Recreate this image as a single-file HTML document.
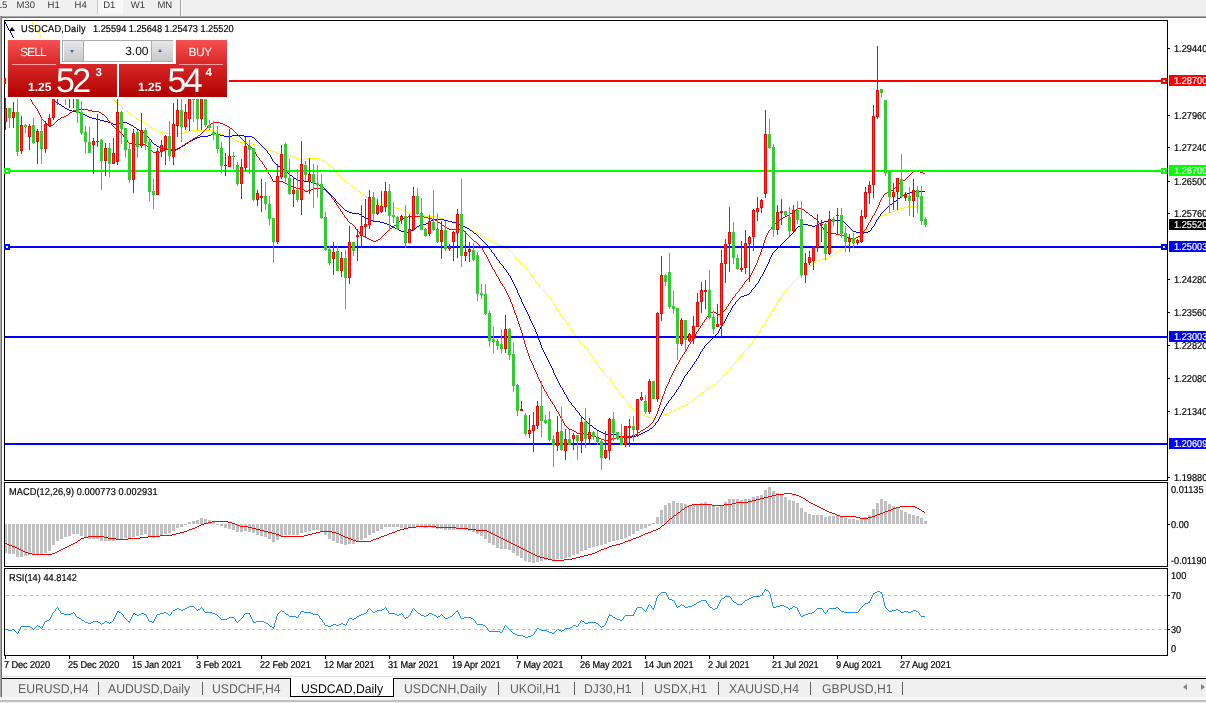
<!DOCTYPE html>
<html><head><meta charset="utf-8"><title>USDCAD,Daily</title>
<style>
html,body{margin:0;padding:0;}
body{width:1206px;height:703px;overflow:hidden;background:#fff;position:relative;font-family:"Liberation Sans",sans-serif;font-size:10px;color:#000;text-rendering:geometricPrecision;}
.a{position:absolute;white-space:nowrap;line-height:12px;}
.tb{position:absolute;left:0;top:0;width:1206px;height:16px;background:#f0f0f0;}
.tb span{position:absolute;top:-1.2px;font-size:9.5px;line-height:14px;color:#383838;letter-spacing:-0.05px}
.ax{position:absolute;left:1173.5px;font-size:10px;line-height:12px;white-space:nowrap;letter-spacing:0px;transform:scaleX(0.92);transform-origin:0 50%;-webkit-text-stroke:0.2px #000;}
.t{-webkit-text-stroke:0.2px #000;transform:scaleX(0.92);transform-origin:0 50%;}
.tag{position:absolute;left:1169px;width:37px;height:11px;}
.tag span{position:absolute;left:4.5px;top:1px;font-size:10px;line-height:12px;color:#fff;letter-spacing:0px;transform:scaleX(0.92);transform-origin:0 50%;-webkit-text-stroke:0.2px #fff;}
.dt{position:absolute;top:660px;font-size:10px;line-height:12px;white-space:nowrap;letter-spacing:-0.1px;transform:scaleX(0.92);transform-origin:0 50%;-webkit-text-stroke:0.2px #000;}
.tabs{position:absolute;left:0;top:678px;width:1206px;height:25px;background:#f0f0f0;}
.tabs span{position:absolute;top:2.6px;font-size:12.6px;line-height:16px;color:#606060;white-space:nowrap;transform:scaleX(0.97);transform-origin:0 50%;}
</style></head><body>

<div class="tb"><span style="left:-11.2px">M15</span><span style="left:16.6px">M30</span><span style="left:47.6px">H1</span><span style="left:74.6px">H4</span><div style="position:absolute;left:97px;top:0;width:25px;height:14px;background:#f8f8f8;border-left:1px solid #c8c8c8;"></div><span style="left:103.2px">D1</span><span style="left:130.8px">W1</span><span style="left:157.5px">MN</span><div style="position:absolute;left:180px;top:0;width:1px;height:16px;background:#a0a0a0;"></div><div style="position:absolute;left:181px;top:0;width:1px;height:16px;background:#fff;"></div></div>
<div style="position:absolute;left:0;top:16px;width:1206px;height:2px;background:linear-gradient(#a8a8a8 50%,#707070 50%);"></div>
<div style="position:absolute;left:0;top:16px;width:2px;height:681px;background:linear-gradient(90deg,#a8a8a8 50%,#707070 50%);z-index:5"></div>
<svg class="a" style="left:0;top:0" width="1206" height="703" viewBox="0 0 1206 703"><defs><clipPath id="cm"><rect x="5" y="21" width="1162" height="459"/></clipPath><clipPath id="c2"><rect x="5" y="483" width="1162" height="83"/></clipPath><clipPath id="c3"><rect x="5" y="569" width="1162" height="86"/></clipPath></defs>
<g clip-path="url(#cm)" shape-rendering="crispEdges">
<path fill="#ffff00" d="M32 22h1v2h-1zM34 25h1v2h-1zM35 27h1v2h-1zM36 29h1v2h-1zM38 32h1v2h-1zM40 35h1v2h-1zM43 39h1v2h-1zM51 48h1v2h-1zM55 53h1v2h-1zM335 170h1v2h-1zM515 256h1v2h-1zM527 269h1v2h-1zM530 273h1v2h-1zM532 276h1v2h-1zM535 280h1v2h-1zM539 285h1v2h-1zM547 294h1v2h-1zM551 299h1v2h-1zM554 303h1v2h-1zM555 305h1v2h-1zM556 307h1v2h-1zM558 310h1v2h-1zM560 313h1v2h-1zM563 317h1v2h-1zM566 321h1v2h-1zM568 324h1v2h-1zM570 327h1v2h-1zM572 330h1v2h-1zM574 333h1v2h-1zM576 336h1v2h-1zM579 340h1v2h-1zM587 349h1v2h-1zM590 353h1v2h-1zM592 356h1v2h-1zM594 359h1v2h-1zM596 362h1v2h-1zM599 366h1v2h-1zM603 371h1v2h-1zM610 379h1v2h-1zM612 382h1v2h-1zM614 385h1v2h-1zM616 388h1v2h-1zM619 392h1v2h-1zM623 397h1v2h-1zM627 402h1v2h-1zM723 375h1v2h-1zM731 366h1v2h-1zM735 361h1v2h-1zM743 352h1v2h-1zM750 344h1v2h-1zM752 341h1v2h-1zM754 338h1v2h-1zM756 335h1v2h-1zM758 332h1v2h-1zM760 329h1v2h-1zM762 326h1v2h-1zM764 323h1v2h-1zM766 320h1v2h-1zM767 318h1v2h-1zM768 316h1v2h-1zM770 313h1v2h-1zM772 310h1v2h-1zM774 307h1v2h-1zM775 305h1v2h-1zM776 303h1v2h-1zM778 300h1v2h-1zM780 297h1v2h-1zM783 293h1v2h-1zM787 288h1v2h-1zM867 228h1v2h-1zM31 21h1v1h-1zM33 24h1v1h-1zM37 31h1v1h-1zM39 34h1v1h-1zM41 37h1v1h-1zM42 38h1v1h-1zM44 41h1v1h-1zM45 42h1v1h-1zM46 43h1v1h-1zM47 44h1v1h-1zM48 45h1v1h-1zM49 46h1v1h-1zM50 47h1v1h-1zM52 50h1v1h-1zM53 51h1v1h-1zM54 52h1v1h-1zM56 55h1v1h-1zM57 56h1v1h-1zM58 57h1v1h-1zM59 58h1v1h-1zM60 59h1v1h-1zM61 60h1v1h-1zM62 61h1v1h-1zM63 62h1v1h-1zM64 63h1v1h-1zM65 64h1v1h-1zM66 65h1v1h-1zM67 66h1v1h-1zM68 67h1v1h-1zM69 68h1v1h-1zM70 69h2v1h-2zM72 70h1v1h-1zM73 71h1v1h-1zM74 72h1v1h-1zM75 73h1v1h-1zM76 74h1v1h-1zM77 75h1v1h-1zM78 76h2v1h-2zM80 77h1v1h-1zM81 78h1v1h-1zM82 79h2v1h-2zM84 80h1v1h-1zM85 81h1v1h-1zM86 82h2v1h-2zM88 83h1v1h-1zM89 84h1v1h-1zM90 85h2v1h-2zM92 86h1v1h-1zM93 87h2v1h-2zM95 88h2v1h-2zM97 89h1v1h-1zM98 90h2v1h-2zM100 91h1v1h-1zM101 92h2v1h-2zM103 93h2v1h-2zM105 94h1v1h-1zM106 95h2v1h-2zM108 96h1v1h-1zM109 97h2v1h-2zM111 98h2v1h-2zM113 99h1v1h-1zM114 100h1v1h-1zM115 101h1v1h-1zM116 102h1v1h-1zM117 103h1v1h-1zM118 104h2v1h-2zM120 105h1v1h-1zM121 106h1v1h-1zM122 107h1v1h-1zM123 108h1v1h-1zM124 109h1v1h-1zM125 110h1v1h-1zM126 111h2v1h-2zM128 112h1v1h-1zM129 113h1v1h-1zM130 114h2v1h-2zM132 115h1v1h-1zM133 116h1v1h-1zM134 117h2v1h-2zM136 118h1v1h-1zM137 119h2v1h-2zM139 120h2v1h-2zM141 121h2v1h-2zM143 122h2v1h-2zM145 123h1v1h-1zM146 124h2v1h-2zM148 125h1v1h-1zM149 126h1v1h-1zM150 127h2v1h-2zM152 128h1v1h-1zM153 129h2v1h-2zM155 130h2v1h-2zM192 130h22v1h-22zM157 131h3v1h-3zM188 131h4v1h-4zM214 131h2v1h-2zM160 132h4v1h-4zM184 132h4v1h-4zM216 132h1v1h-1zM164 133h20v1h-20zM217 133h3v1h-3zM220 134h3v1h-3zM223 135h2v1h-2zM225 136h3v1h-3zM228 137h3v1h-3zM231 138h2v1h-2zM233 139h2v1h-2zM235 140h2v1h-2zM237 141h3v1h-3zM240 142h8v1h-8zM248 143h4v1h-4zM252 144h4v1h-4zM256 145h3v1h-3zM259 146h2v1h-2zM261 147h3v1h-3zM264 148h3v1h-3zM267 149h2v1h-2zM269 150h3v1h-3zM272 151h3v1h-3zM275 152h2v1h-2zM277 153h3v1h-3zM280 154h8v1h-8zM288 155h3v1h-3zM291 156h2v1h-2zM293 157h3v1h-3zM296 158h4v1h-4zM308 158h11v1h-11zM300 159h8v1h-8zM319 159h2v1h-2zM321 160h2v1h-2zM323 161h2v1h-2zM325 162h1v1h-1zM326 163h2v1h-2zM328 164h1v1h-1zM329 165h1v1h-1zM330 166h2v1h-2zM332 167h1v1h-1zM333 168h1v1h-1zM334 169h1v1h-1zM336 172h1v1h-1zM337 173h1v1h-1zM338 174h1v1h-1zM339 175h1v1h-1zM340 176h1v1h-1zM341 177h1v1h-1zM342 178h1v1h-1zM343 179h1v1h-1zM344 180h1v1h-1zM345 181h1v1h-1zM346 182h2v1h-2zM348 183h1v1h-1zM349 184h1v1h-1zM350 185h2v1h-2zM352 186h1v1h-1zM353 187h1v1h-1zM354 188h2v1h-2zM356 189h1v1h-1zM357 190h1v1h-1zM358 191h2v1h-2zM360 192h1v1h-1zM361 193h1v1h-1zM362 194h2v1h-2zM364 195h1v1h-1zM365 196h1v1h-1zM366 197h2v1h-2zM368 198h1v1h-1zM369 199h2v1h-2zM371 200h2v1h-2zM373 201h2v1h-2zM375 202h2v1h-2zM377 203h3v1h-3zM380 204h4v1h-4zM384 205h4v1h-4zM916 205h4v1h-4zM388 206h4v1h-4zM908 206h8v1h-8zM920 206h4v1h-4zM392 207h4v1h-4zM904 207h4v1h-4zM924 207h1v1h-1zM396 208h4v1h-4zM900 208h4v1h-4zM400 209h3v1h-3zM897 209h3v1h-3zM403 210h2v1h-2zM895 210h2v1h-2zM405 211h2v1h-2zM892 211h3v1h-3zM407 212h2v1h-2zM889 212h3v1h-3zM409 213h3v1h-3zM887 213h2v1h-2zM412 214h4v1h-4zM884 214h3v1h-3zM416 215h8v1h-8zM881 215h3v1h-3zM424 216h12v1h-12zM880 216h1v1h-1zM436 217h4v1h-4zM878 217h2v1h-2zM440 218h3v1h-3zM877 218h1v1h-1zM443 219h2v1h-2zM876 219h1v1h-1zM445 220h3v1h-3zM875 220h1v1h-1zM448 221h3v1h-3zM874 221h1v1h-1zM451 222h2v1h-2zM873 222h1v1h-1zM453 223h3v1h-3zM872 223h1v1h-1zM456 224h4v1h-4zM871 224h1v1h-1zM460 225h3v1h-3zM870 225h1v1h-1zM463 226h2v1h-2zM869 226h1v1h-1zM465 227h2v1h-2zM868 227h1v1h-1zM467 228h2v1h-2zM469 229h2v1h-2zM471 230h2v1h-2zM866 230h1v1h-1zM473 231h2v1h-2zM865 231h1v1h-1zM475 232h2v1h-2zM864 232h1v1h-1zM477 233h1v1h-1zM862 233h2v1h-2zM478 234h2v1h-2zM861 234h1v1h-1zM480 235h1v1h-1zM860 235h1v1h-1zM481 236h2v1h-2zM858 236h2v1h-2zM483 237h2v1h-2zM857 237h1v1h-1zM485 238h2v1h-2zM856 238h1v1h-1zM487 239h2v1h-2zM854 239h2v1h-2zM489 240h2v1h-2zM853 240h1v1h-1zM491 241h2v1h-2zM852 241h1v1h-1zM493 242h2v1h-2zM850 242h2v1h-2zM495 243h2v1h-2zM849 243h1v1h-1zM497 244h3v1h-3zM848 244h1v1h-1zM500 245h3v1h-3zM846 245h2v1h-2zM503 246h2v1h-2zM845 246h1v1h-1zM505 247h1v1h-1zM844 247h1v1h-1zM506 248h2v1h-2zM842 248h2v1h-2zM508 249h1v1h-1zM841 249h1v1h-1zM509 250h1v1h-1zM839 250h2v1h-2zM510 251h1v1h-1zM837 251h2v1h-2zM511 252h1v1h-1zM836 252h1v1h-1zM512 253h1v1h-1zM834 253h2v1h-2zM513 254h1v1h-1zM833 254h1v1h-1zM514 255h1v1h-1zM831 255h2v1h-2zM829 256h2v1h-2zM827 257h2v1h-2zM516 258h1v1h-1zM824 258h3v1h-3zM517 259h1v1h-1zM820 259h4v1h-4zM518 260h1v1h-1zM817 260h3v1h-3zM519 261h1v1h-1zM816 261h1v1h-1zM520 262h1v1h-1zM814 262h2v1h-2zM521 263h1v1h-1zM813 263h1v1h-1zM522 264h1v1h-1zM812 264h1v1h-1zM523 265h1v1h-1zM810 265h2v1h-2zM524 266h1v1h-1zM809 266h1v1h-1zM525 267h1v1h-1zM808 267h1v1h-1zM526 268h1v1h-1zM807 268h1v1h-1zM806 269h1v1h-1zM805 270h1v1h-1zM528 271h1v1h-1zM804 271h1v1h-1zM529 272h1v1h-1zM803 272h1v1h-1zM802 273h1v1h-1zM801 274h1v1h-1zM531 275h1v1h-1zM800 275h1v1h-1zM799 276h1v1h-1zM798 277h1v1h-1zM533 278h1v1h-1zM797 278h1v1h-1zM534 279h1v1h-1zM796 279h1v1h-1zM795 280h1v1h-1zM794 281h1v1h-1zM536 282h1v1h-1zM793 282h1v1h-1zM537 283h1v1h-1zM792 283h1v1h-1zM538 284h1v1h-1zM791 284h1v1h-1zM790 285h1v1h-1zM789 286h1v1h-1zM540 287h1v1h-1zM788 287h1v1h-1zM541 288h1v1h-1zM542 289h1v1h-1zM543 290h1v1h-1zM786 290h1v1h-1zM544 291h1v1h-1zM785 291h1v1h-1zM545 292h1v1h-1zM784 292h1v1h-1zM546 293h1v1h-1zM782 295h1v1h-1zM548 296h1v1h-1zM781 296h1v1h-1zM549 297h1v1h-1zM550 298h1v1h-1zM779 299h1v1h-1zM552 301h1v1h-1zM553 302h1v1h-1zM777 302h1v1h-1zM557 309h1v1h-1zM773 309h1v1h-1zM559 312h1v1h-1zM771 312h1v1h-1zM561 315h1v1h-1zM769 315h1v1h-1zM562 316h1v1h-1zM564 319h1v1h-1zM565 320h1v1h-1zM765 322h1v1h-1zM567 323h1v1h-1zM763 325h1v1h-1zM569 326h1v1h-1zM761 328h1v1h-1zM571 329h1v1h-1zM759 331h1v1h-1zM573 332h1v1h-1zM757 334h1v1h-1zM575 335h1v1h-1zM755 337h1v1h-1zM577 338h1v1h-1zM578 339h1v1h-1zM753 340h1v1h-1zM580 342h1v1h-1zM581 343h1v1h-1zM751 343h1v1h-1zM582 344h1v1h-1zM583 345h1v1h-1zM584 346h1v1h-1zM749 346h1v1h-1zM585 347h1v1h-1zM748 347h1v1h-1zM586 348h1v1h-1zM747 348h1v1h-1zM746 349h1v1h-1zM745 350h1v1h-1zM588 351h1v1h-1zM744 351h1v1h-1zM589 352h1v1h-1zM742 354h1v1h-1zM591 355h1v1h-1zM741 355h1v1h-1zM740 356h1v1h-1zM739 357h1v1h-1zM593 358h1v1h-1zM738 358h1v1h-1zM737 359h1v1h-1zM736 360h1v1h-1zM595 361h1v1h-1zM734 363h1v1h-1zM597 364h1v1h-1zM733 364h1v1h-1zM598 365h1v1h-1zM732 365h1v1h-1zM600 368h1v1h-1zM730 368h1v1h-1zM601 369h1v1h-1zM729 369h1v1h-1zM602 370h1v1h-1zM728 370h1v1h-1zM727 371h1v1h-1zM726 372h1v1h-1zM604 373h1v1h-1zM725 373h1v1h-1zM605 374h1v1h-1zM724 374h1v1h-1zM606 375h1v1h-1zM607 376h1v1h-1zM608 377h1v1h-1zM722 377h1v1h-1zM609 378h1v1h-1zM721 378h1v1h-1zM720 379h1v1h-1zM719 380h1v1h-1zM611 381h1v1h-1zM718 381h1v1h-1zM717 382h1v1h-1zM716 383h1v1h-1zM613 384h1v1h-1zM714 384h2v1h-2zM713 385h1v1h-1zM711 386h2v1h-2zM615 387h1v1h-1zM709 387h2v1h-2zM708 388h1v1h-1zM706 389h2v1h-2zM617 390h1v1h-1zM705 390h1v1h-1zM618 391h1v1h-1zM704 391h1v1h-1zM702 392h2v1h-2zM701 393h1v1h-1zM620 394h1v1h-1zM700 394h1v1h-1zM621 395h1v1h-1zM698 395h2v1h-2zM622 396h1v1h-1zM697 396h1v1h-1zM696 397h1v1h-1zM694 398h2v1h-2zM624 399h1v1h-1zM693 399h1v1h-1zM625 400h1v1h-1zM692 400h1v1h-1zM626 401h1v1h-1zM690 401h2v1h-2zM689 402h1v1h-1zM688 403h1v1h-1zM628 404h1v1h-1zM686 404h2v1h-2zM629 405h1v1h-1zM684 405h2v1h-2zM630 406h1v1h-1zM681 406h3v1h-3zM631 407h1v1h-1zM679 407h2v1h-2zM632 408h1v1h-1zM677 408h2v1h-2zM633 409h1v1h-1zM675 409h2v1h-2zM634 410h2v1h-2zM673 410h2v1h-2zM636 411h1v1h-1zM671 411h2v1h-2zM637 412h2v1h-2zM669 412h2v1h-2zM639 413h2v1h-2zM667 413h2v1h-2zM641 414h2v1h-2zM664 414h3v1h-3zM643 415h2v1h-2zM661 415h3v1h-3zM645 416h3v1h-3zM659 416h2v1h-2zM648 417h4v1h-4zM656 417h3v1h-3zM652 418h4v1h-4z"/>
<path fill="#0000ff" d="M5 22h1v2h-1zM6 24h1v2h-1zM7 26h1v2h-1zM8 28h1v2h-1zM10 31h1v2h-1zM11 33h1v2h-1zM12 35h1v2h-1zM14 38h1v2h-1zM15 40h1v2h-1zM16 42h1v2h-1zM18 45h1v2h-1zM19 47h1v2h-1zM20 49h1v2h-1zM21 51h1v2h-1zM22 53h1v2h-1zM23 55h1v2h-1zM24 57h1v2h-1zM26 60h1v2h-1zM27 62h1v2h-1zM28 64h1v2h-1zM30 67h1v2h-1zM32 70h1v2h-1zM34 73h1v2h-1zM35 75h1v2h-1zM36 77h1v2h-1zM38 80h1v2h-1zM40 83h1v2h-1zM42 86h1v2h-1zM44 89h1v2h-1zM46 92h1v2h-1zM47 94h1v2h-1zM48 96h1v2h-1zM151 140h1v2h-1zM267 151h1v2h-1zM270 155h1v2h-1zM271 157h1v2h-1zM272 159h1v2h-1zM335 199h1v2h-1zM487 245h1v2h-1zM491 250h1v2h-1zM494 254h1v2h-1zM496 257h1v2h-1zM499 261h1v2h-1zM503 266h1v2h-1zM506 270h1v2h-1zM508 273h1v2h-1zM510 276h1v2h-1zM511 278h1v2h-1zM512 280h1v2h-1zM513 282h1v2h-1zM514 284h1v2h-1zM515 286h1v2h-1zM516 288h1v2h-1zM517 290h1v3h-1zM518 293h1v2h-1zM519 295h1v2h-1zM520 297h1v2h-1zM521 299h1v3h-1zM522 302h1v2h-1zM523 304h1v2h-1zM524 306h1v2h-1zM525 308h1v2h-1zM526 310h1v2h-1zM527 312h1v2h-1zM528 314h1v2h-1zM529 316h1v3h-1zM530 319h1v2h-1zM531 321h1v2h-1zM532 323h1v2h-1zM533 325h1v2h-1zM534 327h1v2h-1zM535 329h1v3h-1zM536 332h1v2h-1zM537 334h1v3h-1zM538 337h1v3h-1zM539 340h1v2h-1zM540 342h1v3h-1zM541 345h1v3h-1zM542 348h1v2h-1zM543 350h1v2h-1zM544 352h1v2h-1zM545 354h1v2h-1zM546 356h1v2h-1zM547 358h1v2h-1zM548 360h1v2h-1zM549 362h1v2h-1zM550 364h1v2h-1zM551 366h1v2h-1zM552 368h1v2h-1zM553 370h1v3h-1zM554 373h1v2h-1zM555 375h1v2h-1zM556 377h1v2h-1zM557 379h1v2h-1zM558 381h1v2h-1zM559 383h1v2h-1zM560 385h1v2h-1zM562 388h1v2h-1zM563 390h1v2h-1zM564 392h1v2h-1zM566 395h1v2h-1zM567 397h1v2h-1zM568 399h1v2h-1zM571 403h1v2h-1zM575 408h1v2h-1zM579 413h1v2h-1zM655 423h1v2h-1zM658 419h1v2h-1zM659 417h1v2h-1zM660 415h1v2h-1zM661 413h1v2h-1zM662 411h1v2h-1zM663 409h1v2h-1zM664 407h1v2h-1zM666 404h1v2h-1zM668 401h1v2h-1zM671 397h1v2h-1zM674 393h1v2h-1zM676 390h1v2h-1zM678 387h1v2h-1zM680 384h1v2h-1zM681 382h1v2h-1zM682 380h1v2h-1zM683 378h1v2h-1zM684 376h1v2h-1zM687 372h1v2h-1zM690 368h1v2h-1zM692 365h1v2h-1zM694 362h1v2h-1zM696 359h1v2h-1zM698 356h1v2h-1zM699 354h1v2h-1zM700 352h1v2h-1zM702 349h1v2h-1zM704 346h1v2h-1zM718 331h1v2h-1zM719 329h1v2h-1zM720 327h1v2h-1zM722 324h1v2h-1zM724 321h1v2h-1zM725 319h1v2h-1zM726 317h1v2h-1zM727 315h1v2h-1zM728 313h1v2h-1zM730 310h1v2h-1zM731 308h1v2h-1zM732 306h1v2h-1zM735 302h1v2h-1zM751 290h1v2h-1zM755 285h1v2h-1zM758 281h1v2h-1zM759 279h1v2h-1zM760 277h1v2h-1zM762 274h1v2h-1zM763 272h1v2h-1zM764 270h1v2h-1zM765 268h1v2h-1zM766 266h1v2h-1zM767 264h1v2h-1zM768 262h1v2h-1zM769 259h1v3h-1zM770 257h1v2h-1zM771 255h1v2h-1zM772 253h1v2h-1zM795 229h1v2h-1zM871 228h1v2h-1zM874 224h1v2h-1zM875 222h1v2h-1zM876 220h1v2h-1zM878 217h1v2h-1zM880 214h1v2h-1zM9 30h1v1h-1zM13 37h1v1h-1zM17 44h1v1h-1zM25 59h1v1h-1zM29 66h1v1h-1zM31 69h1v1h-1zM33 72h1v1h-1zM37 79h1v1h-1zM39 82h1v1h-1zM41 85h1v1h-1zM43 88h1v1h-1zM45 91h1v1h-1zM49 98h3v1h-3zM52 99h2v1h-2zM54 100h1v1h-1zM55 101h1v1h-1zM56 102h1v1h-1zM57 103h2v1h-2zM59 104h2v1h-2zM61 105h1v1h-1zM62 106h2v1h-2zM64 107h1v1h-1zM65 108h2v1h-2zM67 109h2v1h-2zM69 110h3v1h-3zM72 111h4v1h-4zM76 112h4v1h-4zM80 113h3v1h-3zM83 114h2v1h-2zM85 115h2v1h-2zM87 116h2v1h-2zM89 117h3v1h-3zM92 118h4v1h-4zM96 119h4v1h-4zM100 120h4v1h-4zM104 121h4v1h-4zM108 122h3v1h-3zM120 122h7v1h-7zM111 123h2v1h-2zM116 123h4v1h-4zM127 123h2v1h-2zM113 124h3v1h-3zM129 124h2v1h-2zM131 125h2v1h-2zM133 126h1v1h-1zM134 127h2v1h-2zM136 128h1v1h-1zM137 129h2v1h-2zM139 130h2v1h-2zM141 131h1v1h-1zM142 132h2v1h-2zM144 133h1v1h-1zM213 133h3v1h-3zM145 134h1v1h-1zM211 134h2v1h-2zM216 134h4v1h-4zM146 135h1v1h-1zM208 135h3v1h-3zM220 135h4v1h-4zM232 135h12v1h-12zM147 136h1v1h-1zM200 136h8v1h-8zM224 136h8v1h-8zM244 136h8v1h-8zM148 137h1v1h-1zM197 137h3v1h-3zM252 137h2v1h-2zM149 138h1v1h-1zM195 138h2v1h-2zM254 138h1v1h-1zM150 139h1v1h-1zM193 139h2v1h-2zM255 139h1v1h-1zM191 140h2v1h-2zM256 140h1v1h-1zM189 141h2v1h-2zM257 141h1v1h-1zM152 142h1v1h-1zM188 142h1v1h-1zM258 142h1v1h-1zM153 143h1v1h-1zM186 143h2v1h-2zM259 143h1v1h-1zM154 144h2v1h-2zM185 144h1v1h-1zM260 144h1v1h-1zM156 145h1v1h-1zM183 145h2v1h-2zM261 145h1v1h-1zM157 146h2v1h-2zM181 146h2v1h-2zM262 146h1v1h-1zM159 147h2v1h-2zM179 147h2v1h-2zM263 147h1v1h-1zM161 148h3v1h-3zM177 148h2v1h-2zM264 148h1v1h-1zM164 149h4v1h-4zM175 149h2v1h-2zM265 149h1v1h-1zM168 150h7v1h-7zM266 150h1v1h-1zM268 153h1v1h-1zM269 154h1v1h-1zM273 161h1v1h-1zM274 162h1v1h-1zM275 163h1v1h-1zM276 164h1v1h-1zM277 165h1v1h-1zM278 166h2v1h-2zM280 167h1v1h-1zM281 168h1v1h-1zM282 169h2v1h-2zM284 170h1v1h-1zM285 171h1v1h-1zM286 172h2v1h-2zM288 173h1v1h-1zM289 174h1v1h-1zM290 175h2v1h-2zM292 176h1v1h-1zM293 177h1v1h-1zM294 178h2v1h-2zM296 179h1v1h-1zM297 180h7v1h-7zM304 181h7v1h-7zM311 182h2v1h-2zM313 183h3v1h-3zM316 184h3v1h-3zM319 185h2v1h-2zM321 186h1v1h-1zM322 187h2v1h-2zM324 188h1v1h-1zM325 189h1v1h-1zM326 190h1v1h-1zM327 191h1v1h-1zM912 191h13v1h-13zM328 192h1v1h-1zM909 192h3v1h-3zM329 193h1v1h-1zM907 193h2v1h-2zM330 194h1v1h-1zM905 194h2v1h-2zM331 195h1v1h-1zM903 195h2v1h-2zM332 196h1v1h-1zM901 196h2v1h-2zM333 197h1v1h-1zM900 197h1v1h-1zM334 198h1v1h-1zM898 198h2v1h-2zM897 199h1v1h-1zM896 200h1v1h-1zM336 201h1v1h-1zM894 201h2v1h-2zM337 202h1v1h-1zM893 202h1v1h-1zM338 203h1v1h-1zM892 203h1v1h-1zM339 204h1v1h-1zM890 204h2v1h-2zM340 205h1v1h-1zM889 205h1v1h-1zM341 206h1v1h-1zM888 206h1v1h-1zM342 207h1v1h-1zM887 207h1v1h-1zM343 208h1v1h-1zM886 208h1v1h-1zM344 209h1v1h-1zM885 209h1v1h-1zM345 210h2v1h-2zM884 210h1v1h-1zM347 211h2v1h-2zM883 211h1v1h-1zM349 212h3v1h-3zM882 212h1v1h-1zM352 213h7v1h-7zM881 213h1v1h-1zM359 214h2v1h-2zM361 215h1v1h-1zM362 216h2v1h-2zM879 216h1v1h-1zM364 217h1v1h-1zM365 218h3v1h-3zM368 219h3v1h-3zM433 219h11v1h-11zM877 219h1v1h-1zM371 220h2v1h-2zM431 220h2v1h-2zM444 220h4v1h-4zM828 220h14v1h-14zM373 221h7v1h-7zM429 221h2v1h-2zM448 221h4v1h-4zM824 221h4v1h-4zM842 221h2v1h-2zM380 222h4v1h-4zM428 222h1v1h-1zM452 222h4v1h-4zM821 222h3v1h-3zM844 222h1v1h-1zM384 223h3v1h-3zM426 223h2v1h-2zM456 223h3v1h-3zM819 223h2v1h-2zM845 223h1v1h-1zM387 224h2v1h-2zM421 224h5v1h-5zM459 224h2v1h-2zM801 224h7v1h-7zM817 224h2v1h-2zM846 224h1v1h-1zM389 225h2v1h-2zM419 225h2v1h-2zM461 225h2v1h-2zM800 225h1v1h-1zM808 225h4v1h-4zM815 225h2v1h-2zM847 225h1v1h-1zM391 226h2v1h-2zM417 226h2v1h-2zM463 226h2v1h-2zM798 226h2v1h-2zM812 226h3v1h-3zM848 226h1v1h-1zM873 226h1v1h-1zM393 227h2v1h-2zM416 227h1v1h-1zM465 227h2v1h-2zM797 227h1v1h-1zM849 227h1v1h-1zM872 227h1v1h-1zM395 228h2v1h-2zM414 228h2v1h-2zM467 228h2v1h-2zM796 228h1v1h-1zM850 228h1v1h-1zM397 229h2v1h-2zM413 229h1v1h-1zM469 229h1v1h-1zM851 229h1v1h-1zM399 230h2v1h-2zM411 230h2v1h-2zM470 230h2v1h-2zM852 230h1v1h-1zM870 230h1v1h-1zM401 231h3v1h-3zM408 231h3v1h-3zM472 231h1v1h-1zM794 231h1v1h-1zM853 231h3v1h-3zM868 231h2v1h-2zM404 232h4v1h-4zM473 232h1v1h-1zM793 232h1v1h-1zM856 232h4v1h-4zM864 232h4v1h-4zM474 233h2v1h-2zM792 233h1v1h-1zM860 233h4v1h-4zM476 234h1v1h-1zM791 234h1v1h-1zM477 235h1v1h-1zM790 235h1v1h-1zM478 236h1v1h-1zM789 236h1v1h-1zM479 237h1v1h-1zM788 237h1v1h-1zM480 238h1v1h-1zM787 238h1v1h-1zM481 239h1v1h-1zM786 239h1v1h-1zM482 240h1v1h-1zM785 240h1v1h-1zM483 241h1v1h-1zM784 241h1v1h-1zM484 242h1v1h-1zM783 242h1v1h-1zM485 243h1v1h-1zM782 243h1v1h-1zM486 244h1v1h-1zM781 244h1v1h-1zM780 245h1v1h-1zM779 246h1v1h-1zM488 247h1v1h-1zM778 247h1v1h-1zM489 248h1v1h-1zM777 248h1v1h-1zM490 249h1v1h-1zM776 249h1v1h-1zM775 250h1v1h-1zM774 251h1v1h-1zM492 252h1v1h-1zM773 252h1v1h-1zM493 253h1v1h-1zM495 256h1v1h-1zM497 259h1v1h-1zM498 260h1v1h-1zM500 263h1v1h-1zM501 264h1v1h-1zM502 265h1v1h-1zM504 268h1v1h-1zM505 269h1v1h-1zM507 272h1v1h-1zM509 275h1v1h-1zM761 276h1v1h-1zM757 283h1v1h-1zM756 284h1v1h-1zM754 287h1v1h-1zM753 288h1v1h-1zM752 289h1v1h-1zM750 292h1v1h-1zM749 293h1v1h-1zM747 294h2v1h-2zM744 295h3v1h-3zM741 296h3v1h-3zM740 297h1v1h-1zM739 298h1v1h-1zM738 299h1v1h-1zM737 300h1v1h-1zM736 301h1v1h-1zM734 304h1v1h-1zM733 305h1v1h-1zM729 312h1v1h-1zM723 323h1v1h-1zM721 326h1v1h-1zM717 333h1v1h-1zM716 334h1v1h-1zM715 335h1v1h-1zM714 336h1v1h-1zM713 337h1v1h-1zM712 338h1v1h-1zM711 339h1v1h-1zM710 340h1v1h-1zM709 341h1v1h-1zM708 342h1v1h-1zM707 343h1v1h-1zM706 344h1v1h-1zM705 345h1v1h-1zM703 348h1v1h-1zM701 351h1v1h-1zM697 358h1v1h-1zM695 361h1v1h-1zM693 364h1v1h-1zM691 367h1v1h-1zM689 370h1v1h-1zM688 371h1v1h-1zM686 374h1v1h-1zM685 375h1v1h-1zM679 386h1v1h-1zM561 387h1v1h-1zM677 389h1v1h-1zM675 392h1v1h-1zM565 394h1v1h-1zM673 395h1v1h-1zM672 396h1v1h-1zM670 399h1v1h-1zM669 400h1v1h-1zM569 401h1v1h-1zM570 402h1v1h-1zM667 403h1v1h-1zM572 405h1v1h-1zM573 406h1v1h-1zM665 406h1v1h-1zM574 407h1v1h-1zM576 410h1v1h-1zM577 411h1v1h-1zM578 412h1v1h-1zM580 415h1v1h-1zM581 416h1v1h-1zM582 417h1v1h-1zM583 418h1v1h-1zM584 419h1v1h-1zM585 420h1v1h-1zM586 421h1v1h-1zM657 421h1v1h-1zM587 422h1v1h-1zM656 422h1v1h-1zM588 423h1v1h-1zM589 424h1v1h-1zM590 425h2v1h-2zM654 425h1v1h-1zM592 426h1v1h-1zM653 426h1v1h-1zM593 427h1v1h-1zM652 427h1v1h-1zM594 428h2v1h-2zM650 428h2v1h-2zM596 429h1v1h-1zM649 429h1v1h-1zM597 430h2v1h-2zM647 430h2v1h-2zM599 431h2v1h-2zM645 431h2v1h-2zM601 432h2v1h-2zM643 432h2v1h-2zM603 433h2v1h-2zM641 433h2v1h-2zM605 434h11v1h-11zM639 434h2v1h-2zM616 435h3v1h-3zM636 435h3v1h-3zM619 436h2v1h-2zM632 436h4v1h-4zM621 437h11v1h-11z"/>
<path fill="#ff0000" d=""/>
<path fill="#ff0000" d="M31 100h1v2h-1zM32 102h1v2h-1zM35 106h1v2h-1zM37 109h1v2h-1zM38 111h1v2h-1zM39 113h1v2h-1zM40 115h1v2h-1zM41 117h1v2h-1zM107 118h1v2h-1zM111 123h1v2h-1zM123 135h1v2h-1zM127 140h1v2h-1zM207 126h1v2h-1zM254 150h1v2h-1zM255 152h1v2h-1zM256 154h1v2h-1zM259 158h1v2h-1zM262 162h1v2h-1zM264 165h1v2h-1zM266 168h1v2h-1zM267 170h1v2h-1zM268 172h1v2h-1zM270 175h1v2h-1zM271 177h1v2h-1zM272 179h1v2h-1zM331 196h1v2h-1zM334 200h1v2h-1zM336 203h1v2h-1zM338 206h1v2h-1zM340 209h1v2h-1zM342 212h1v2h-1zM344 215h1v2h-1zM347 219h1v2h-1zM355 227h1v2h-1zM359 232h1v2h-1zM482 248h1v2h-1zM483 250h1v2h-1zM484 252h1v2h-1zM486 255h1v2h-1zM487 257h1v2h-1zM488 259h1v2h-1zM489 261h1v2h-1zM490 263h1v2h-1zM491 265h1v2h-1zM492 267h1v2h-1zM494 270h1v2h-1zM495 272h1v2h-1zM496 274h1v2h-1zM498 277h1v2h-1zM499 279h1v2h-1zM500 281h1v2h-1zM502 284h1v2h-1zM504 287h1v2h-1zM505 289h1v2h-1zM506 291h1v2h-1zM507 293h1v2h-1zM508 295h1v2h-1zM509 297h1v2h-1zM510 299h1v3h-1zM511 302h1v2h-1zM512 304h1v3h-1zM513 307h1v3h-1zM514 310h1v3h-1zM515 313h1v2h-1zM516 315h1v3h-1zM517 318h1v3h-1zM518 321h1v3h-1zM519 324h1v3h-1zM520 327h1v3h-1zM521 330h1v3h-1zM522 333h1v4h-1zM523 337h1v3h-1zM524 340h1v4h-1zM525 344h1v3h-1zM526 347h1v3h-1zM527 350h1v3h-1zM528 353h1v3h-1zM529 356h1v3h-1zM530 359h1v2h-1zM531 361h1v2h-1zM532 363h1v2h-1zM533 365h1v3h-1zM534 368h1v2h-1zM535 370h1v2h-1zM536 372h1v2h-1zM537 374h1v3h-1zM538 377h1v2h-1zM539 379h1v2h-1zM540 381h1v2h-1zM541 383h1v2h-1zM542 385h1v2h-1zM543 387h1v2h-1zM544 389h1v2h-1zM546 392h1v2h-1zM547 394h1v2h-1zM548 396h1v2h-1zM550 399h1v2h-1zM552 402h1v2h-1zM554 405h1v2h-1zM555 407h1v2h-1zM556 409h1v2h-1zM558 412h1v2h-1zM559 414h1v2h-1zM560 416h1v2h-1zM562 419h1v2h-1zM563 421h1v2h-1zM564 423h1v2h-1zM653 420h1v2h-1zM654 418h1v2h-1zM655 416h1v2h-1zM656 414h1v2h-1zM657 411h1v3h-1zM658 408h1v3h-1zM659 405h1v3h-1zM660 402h1v3h-1zM661 399h1v3h-1zM662 396h1v3h-1zM663 394h1v2h-1zM664 391h1v3h-1zM665 388h1v3h-1zM666 386h1v2h-1zM667 384h1v2h-1zM668 382h1v2h-1zM669 379h1v3h-1zM670 377h1v2h-1zM671 375h1v2h-1zM672 373h1v2h-1zM673 371h1v2h-1zM674 369h1v2h-1zM675 367h1v2h-1zM676 365h1v2h-1zM678 362h1v2h-1zM679 360h1v2h-1zM680 358h1v2h-1zM682 355h1v2h-1zM684 352h1v2h-1zM686 349h1v2h-1zM687 347h1v2h-1zM688 345h1v2h-1zM690 342h1v2h-1zM692 339h1v2h-1zM694 336h1v2h-1zM695 334h1v2h-1zM696 332h1v2h-1zM698 329h1v2h-1zM700 326h1v2h-1zM702 323h1v2h-1zM704 320h1v2h-1zM706 317h1v2h-1zM708 314h1v2h-1zM726 307h1v2h-1zM728 304h1v2h-1zM730 301h1v2h-1zM732 298h1v2h-1zM735 294h1v2h-1zM739 289h1v2h-1zM742 285h1v2h-1zM744 282h1v2h-1zM750 275h1v2h-1zM751 273h1v2h-1zM752 271h1v2h-1zM753 269h1v2h-1zM754 267h1v2h-1zM755 265h1v2h-1zM756 263h1v2h-1zM757 260h1v3h-1zM758 257h1v3h-1zM759 255h1v2h-1zM760 252h1v3h-1zM761 249h1v3h-1zM762 246h1v3h-1zM763 243h1v3h-1zM764 240h1v3h-1zM765 237h1v3h-1zM766 235h1v2h-1zM767 233h1v2h-1zM768 231h1v2h-1zM771 227h1v2h-1zM818 221h1v2h-1zM820 224h1v2h-1zM823 228h1v2h-1zM863 231h1v2h-1zM866 227h1v2h-1zM867 225h1v2h-1zM868 223h1v2h-1zM870 220h1v2h-1zM871 218h1v2h-1zM872 216h1v2h-1zM874 213h1v2h-1zM875 211h1v2h-1zM876 209h1v2h-1zM877 207h1v2h-1zM878 205h1v2h-1zM879 202h1v3h-1zM880 200h1v2h-1zM881 198h1v2h-1zM883 195h1v2h-1zM30 99h1v1h-1zM33 104h1v1h-1zM34 105h1v1h-1zM36 108h1v1h-1zM76 109h12v1h-12zM73 110h3v1h-3zM88 110h4v1h-4zM72 111h1v1h-1zM92 111h7v1h-7zM70 112h2v1h-2zM99 112h2v1h-2zM69 113h1v1h-1zM101 113h1v1h-1zM68 114h1v1h-1zM102 114h2v1h-2zM66 115h2v1h-2zM104 115h1v1h-1zM64 116h2v1h-2zM105 116h1v1h-1zM61 117h3v1h-3zM106 117h1v1h-1zM60 118h1v1h-1zM42 119h1v1h-1zM58 119h2v1h-2zM43 120h1v1h-1zM57 120h1v1h-1zM108 120h1v1h-1zM44 121h1v1h-1zM56 121h1v1h-1zM109 121h1v1h-1zM45 122h1v1h-1zM55 122h1v1h-1zM110 122h1v1h-1zM213 122h7v1h-7zM46 123h1v1h-1zM54 123h1v1h-1zM211 123h2v1h-2zM220 123h3v1h-3zM47 124h1v1h-1zM53 124h1v1h-1zM209 124h2v1h-2zM223 124h2v1h-2zM48 125h1v1h-1zM51 125h2v1h-2zM112 125h1v1h-1zM208 125h1v1h-1zM225 125h2v1h-2zM49 126h2v1h-2zM113 126h1v1h-1zM227 126h2v1h-2zM114 127h1v1h-1zM229 127h1v1h-1zM115 128h1v1h-1zM206 128h1v1h-1zM230 128h2v1h-2zM116 129h1v1h-1zM205 129h1v1h-1zM232 129h1v1h-1zM117 130h1v1h-1zM204 130h1v1h-1zM233 130h1v1h-1zM118 131h2v1h-2zM203 131h1v1h-1zM234 131h1v1h-1zM120 132h1v1h-1zM202 132h1v1h-1zM235 132h1v1h-1zM121 133h1v1h-1zM201 133h1v1h-1zM236 133h1v1h-1zM122 134h1v1h-1zM200 134h1v1h-1zM237 134h1v1h-1zM198 135h2v1h-2zM238 135h1v1h-1zM197 136h1v1h-1zM239 136h1v1h-1zM124 137h1v1h-1zM195 137h2v1h-2zM240 137h1v1h-1zM125 138h1v1h-1zM193 138h2v1h-2zM241 138h1v1h-1zM126 139h1v1h-1zM192 139h1v1h-1zM242 139h1v1h-1zM190 140h2v1h-2zM243 140h1v1h-1zM189 141h1v1h-1zM244 141h1v1h-1zM128 142h1v1h-1zM187 142h2v1h-2zM245 142h1v1h-1zM129 143h3v1h-3zM185 143h2v1h-2zM246 143h1v1h-1zM132 144h14v1h-14zM184 144h1v1h-1zM247 144h1v1h-1zM146 145h1v1h-1zM182 145h2v1h-2zM248 145h1v1h-1zM147 146h1v1h-1zM181 146h1v1h-1zM249 146h1v1h-1zM148 147h1v1h-1zM180 147h1v1h-1zM250 147h2v1h-2zM149 148h1v1h-1zM178 148h2v1h-2zM252 148h1v1h-1zM150 149h1v1h-1zM165 149h7v1h-7zM176 149h2v1h-2zM253 149h1v1h-1zM151 150h1v1h-1zM163 150h2v1h-2zM172 150h4v1h-4zM152 151h1v1h-1zM160 151h3v1h-3zM153 152h7v1h-7zM257 156h1v1h-1zM258 157h1v1h-1zM260 160h1v1h-1zM261 161h1v1h-1zM263 164h1v1h-1zM265 167h1v1h-1zM913 171h7v1h-7zM912 172h1v1h-1zM920 172h3v1h-3zM911 173h1v1h-1zM923 173h2v1h-2zM269 174h1v1h-1zM910 174h1v1h-1zM909 175h1v1h-1zM908 176h1v1h-1zM907 177h1v1h-1zM906 178h1v1h-1zM905 179h1v1h-1zM903 180h2v1h-2zM273 181h10v1h-10zM901 181h2v1h-2zM283 182h2v1h-2zM900 182h1v1h-1zM285 183h2v1h-2zM899 183h1v1h-1zM287 184h2v1h-2zM898 184h1v1h-1zM289 185h2v1h-2zM897 185h1v1h-1zM291 186h2v1h-2zM896 186h1v1h-1zM293 187h3v1h-3zM895 187h1v1h-1zM296 188h6v1h-6zM313 188h10v1h-10zM894 188h1v1h-1zM302 189h2v1h-2zM311 189h2v1h-2zM323 189h2v1h-2zM893 189h1v1h-1zM304 190h1v1h-1zM308 190h3v1h-3zM325 190h1v1h-1zM891 190h2v1h-2zM305 191h3v1h-3zM326 191h1v1h-1zM889 191h2v1h-2zM327 192h1v1h-1zM887 192h2v1h-2zM328 193h1v1h-1zM885 193h2v1h-2zM329 194h1v1h-1zM884 194h1v1h-1zM330 195h1v1h-1zM882 197h1v1h-1zM332 198h1v1h-1zM333 199h1v1h-1zM335 202h1v1h-1zM337 205h1v1h-1zM339 208h1v1h-1zM797 208h5v1h-5zM796 209h1v1h-1zM802 209h2v1h-2zM794 210h2v1h-2zM804 210h1v1h-1zM341 211h1v1h-1zM793 211h1v1h-1zM805 211h1v1h-1zM792 212h1v1h-1zM806 212h2v1h-2zM790 213h2v1h-2zM808 213h1v1h-1zM343 214h1v1h-1zM789 214h1v1h-1zM809 214h1v1h-1zM787 215h2v1h-2zM810 215h2v1h-2zM873 215h1v1h-1zM408 216h16v1h-16zM785 216h2v1h-2zM812 216h1v1h-1zM345 217h1v1h-1zM405 217h3v1h-3zM424 217h4v1h-4zM783 217h2v1h-2zM813 217h1v1h-1zM346 218h1v1h-1zM403 218h2v1h-2zM428 218h4v1h-4zM781 218h2v1h-2zM814 218h2v1h-2zM401 219h2v1h-2zM432 219h3v1h-3zM780 219h1v1h-1zM816 219h1v1h-1zM400 220h1v1h-1zM435 220h2v1h-2zM778 220h2v1h-2zM817 220h1v1h-1zM348 221h1v1h-1zM399 221h1v1h-1zM437 221h1v1h-1zM777 221h1v1h-1zM349 222h1v1h-1zM398 222h1v1h-1zM438 222h2v1h-2zM776 222h1v1h-1zM869 222h1v1h-1zM350 223h2v1h-2zM397 223h1v1h-1zM440 223h1v1h-1zM775 223h1v1h-1zM819 223h1v1h-1zM352 224h1v1h-1zM396 224h1v1h-1zM441 224h1v1h-1zM774 224h1v1h-1zM353 225h1v1h-1zM394 225h2v1h-2zM442 225h2v1h-2zM773 225h1v1h-1zM354 226h1v1h-1zM393 226h1v1h-1zM444 226h1v1h-1zM772 226h1v1h-1zM821 226h1v1h-1zM392 227h1v1h-1zM445 227h2v1h-2zM822 227h1v1h-1zM390 228h2v1h-2zM447 228h2v1h-2zM356 229h1v1h-1zM389 229h1v1h-1zM449 229h13v1h-13zM770 229h1v1h-1zM865 229h1v1h-1zM357 230h1v1h-1zM388 230h1v1h-1zM462 230h2v1h-2zM769 230h1v1h-1zM824 230h1v1h-1zM864 230h1v1h-1zM358 231h1v1h-1zM387 231h1v1h-1zM464 231h1v1h-1zM825 231h2v1h-2zM386 232h1v1h-1zM465 232h1v1h-1zM827 232h2v1h-2zM385 233h1v1h-1zM466 233h1v1h-1zM829 233h7v1h-7zM862 233h1v1h-1zM360 234h1v1h-1zM384 234h1v1h-1zM467 234h1v1h-1zM836 234h4v1h-4zM861 234h1v1h-1zM361 235h2v1h-2zM383 235h1v1h-1zM468 235h1v1h-1zM840 235h4v1h-4zM860 235h1v1h-1zM363 236h2v1h-2zM382 236h1v1h-1zM469 236h1v1h-1zM844 236h3v1h-3zM858 236h2v1h-2zM365 237h2v1h-2zM381 237h1v1h-1zM470 237h1v1h-1zM847 237h2v1h-2zM856 237h2v1h-2zM367 238h2v1h-2zM380 238h1v1h-1zM471 238h1v1h-1zM849 238h7v1h-7zM369 239h2v1h-2zM378 239h2v1h-2zM472 239h1v1h-1zM371 240h2v1h-2zM376 240h2v1h-2zM473 240h1v1h-1zM373 241h3v1h-3zM474 241h2v1h-2zM476 242h1v1h-1zM477 243h1v1h-1zM478 244h1v1h-1zM479 245h1v1h-1zM480 246h1v1h-1zM481 247h1v1h-1zM485 254h1v1h-1zM493 269h1v1h-1zM497 276h1v1h-1zM749 277h1v1h-1zM748 278h1v1h-1zM747 279h1v1h-1zM746 280h1v1h-1zM745 281h1v1h-1zM501 283h1v1h-1zM743 284h1v1h-1zM503 286h1v1h-1zM741 287h1v1h-1zM740 288h1v1h-1zM738 291h1v1h-1zM737 292h1v1h-1zM736 293h1v1h-1zM734 296h1v1h-1zM733 297h1v1h-1zM731 300h1v1h-1zM729 303h1v1h-1zM727 306h1v1h-1zM725 309h1v1h-1zM724 310h1v1h-1zM713 311h1v1h-1zM723 311h1v1h-1zM711 312h2v1h-2zM714 312h2v1h-2zM722 312h1v1h-1zM709 313h2v1h-2zM716 313h1v1h-1zM720 313h2v1h-2zM717 314h3v1h-3zM707 316h1v1h-1zM705 319h1v1h-1zM703 322h1v1h-1zM701 325h1v1h-1zM699 328h1v1h-1zM697 331h1v1h-1zM693 338h1v1h-1zM691 341h1v1h-1zM689 344h1v1h-1zM685 351h1v1h-1zM683 354h1v1h-1zM681 357h1v1h-1zM677 364h1v1h-1zM545 391h1v1h-1zM549 398h1v1h-1zM551 401h1v1h-1zM553 404h1v1h-1zM557 411h1v1h-1zM561 418h1v1h-1zM652 422h1v1h-1zM651 423h1v1h-1zM650 424h1v1h-1zM565 425h1v1h-1zM649 425h1v1h-1zM566 426h1v1h-1zM648 426h1v1h-1zM567 427h1v1h-1zM646 427h2v1h-2zM568 428h1v1h-1zM645 428h1v1h-1zM569 429h3v1h-3zM643 429h2v1h-2zM572 430h2v1h-2zM641 430h2v1h-2zM574 431h2v1h-2zM640 431h1v1h-1zM576 432h1v1h-1zM638 432h2v1h-2zM577 433h7v1h-7zM637 433h1v1h-1zM584 434h4v1h-4zM635 434h2v1h-2zM588 435h4v1h-4zM632 435h3v1h-3zM592 436h4v1h-4zM620 436h12v1h-12zM596 437h3v1h-3zM616 437h4v1h-4zM599 438h2v1h-2zM612 438h4v1h-4zM601 439h3v1h-3zM608 439h4v1h-4zM604 440h4v1h-4z"/>
<rect x="5" y="80" width="1162" height="2" fill="#ff0000"/>
<rect x="5" y="170" width="1162" height="2" fill="#00ff00"/>
<rect x="5" y="246" width="1162" height="2" fill="#0000ff"/>
<rect x="5" y="336" width="1162" height="2" fill="#0000ff"/>
<rect x="5" y="443" width="1162" height="2" fill="#0000ff"/>
<path d="M9.5 108V128M17.5 99V156M25.5 124V133M33.5 118V144M41.5 118V164M65.5 85V105M77.5 85V123M81.5 101V135M85.5 126V153M89.5 127V153M101.5 139V190M109.5 143V177M121.5 111V144M125.5 128V157M129.5 144V183M137.5 130V158M145.5 128V150M149.5 138V201M153.5 179V209M169.5 121V161M181.5 95V142M193.5 95V122M197.5 90V130M205.5 90V127M209.5 120V130M213.5 121V140M217.5 126V153M221.5 142V173M233.5 152V169M237.5 162V186M249.5 140V174M253.5 148V201M265.5 182V210M269.5 196V225M273.5 218V263M285.5 143V182M289.5 159V195M297.5 169V202M305.5 161V181M313.5 164V208M317.5 165V198M321.5 174V219M325.5 212V251M329.5 246V265M337.5 247V271M345.5 250V309M353.5 242V256M373.5 192V221M389.5 184V231M393.5 202V223M397.5 216V230M405.5 205V248M417.5 188V215M421.5 198V230M425.5 228V237M433.5 190V231M437.5 213V243M445.5 221V251M461.5 179V267M473.5 243V261M477.5 252V301M481.5 284V299M485.5 284V315M489.5 311V347M493.5 327V353M497.5 339V350M501.5 329V353M509.5 328V360M513.5 343V392M517.5 384V416M525.5 413V436M541.5 381V437M545.5 415V424M549.5 411V441M553.5 435V467M561.5 407V451M569.5 430V445M577.5 435V460M585.5 408V448M593.5 431V440M597.5 431V445M601.5 439V470M613.5 412V441M617.5 432V440M621.5 424V445M633.5 416V441M645.5 395V414M653.5 381V399M665.5 274V286M669.5 253V309M673.5 291V314M677.5 308V360M685.5 320V351M709.5 270V319M713.5 314V334M733.5 222V264M737.5 255V270M769.5 119V149M773.5 144V237M785.5 211V216M789.5 207V236M797.5 201V224M801.5 201V278M825.5 223V260M833.5 217V226M841.5 208V238M845.5 226V252M853.5 233V248M881.5 89V97M885.5 100V176M889.5 170V213M901.5 154V198M909.5 187V216M917.5 186V213M921.5 186V225M925.5 217V227" stroke="#32cd32" fill="none"/>
<path d="M8 108h3v10h-3zM16 112h3v40h-3zM24 125h3v2h-3zM32 125h3v18h-3zM40 131h3v18h-3zM64 88h3v7h-3zM76 90h3v23h-3zM80 112h3v21h-3zM84 132h3v10h-3zM88 142h3v11h-3zM100 140h3v21h-3zM108 148h3v16h-3zM120 112h3v17h-3zM124 128h3v22h-3zM128 149h3v31h-3zM136 132h3v15h-3zM144 130h3v13h-3zM148 142h3v50h-3zM152 191h3v4h-3zM168 136h3v20h-3zM180 110h3v17h-3zM192 99h3v1h-3zM196 95h3v24h-3zM204 95h3v30h-3zM208 125h3v3h-3zM212 132h3v3h-3zM216 134h3v15h-3zM220 148h3v18h-3zM232 156h3v1h-3zM236 165h3v19h-3zM248 146h3v4h-3zM252 148h3v52h-3zM264 196h3v8h-3zM268 204h3v15h-3zM272 218h3v24h-3zM284 144h3v34h-3zM288 178h3v16h-3zM296 190h3v10h-3zM304 165h3v10h-3zM312 174h3v9h-3zM316 183h3v2h-3zM320 184h3v34h-3zM324 217h3v33h-3zM328 249h3v14h-3zM336 251h3v20h-3zM344 258h3v20h-3zM352 242h3v9h-3zM372 197h3v17h-3zM388 191h3v25h-3zM392 215h3v2h-3zM396 217h3v12h-3zM404 216h3v27h-3zM416 196h3v18h-3zM420 213h3v17h-3zM424 229h3v7h-3zM432 222h3v8h-3zM436 229h3v13h-3zM444 230h3v19h-3zM460 214h3v42h-3zM472 250h3v10h-3zM476 255h3v39h-3zM480 293h3v2h-3zM484 294h3v20h-3zM488 313h3v28h-3zM492 339h3v3h-3zM496 341h3v5h-3zM500 344h3v5h-3zM508 329h3v26h-3zM512 354h3v32h-3zM516 385h3v26h-3zM524 415h3v19h-3zM540 406h3v15h-3zM544 420h3v3h-3zM548 419h3v21h-3zM552 439h3v6h-3zM560 431h3v19h-3zM568 439h3v6h-3zM576 435h3v6h-3zM584 422h3v17h-3zM592 432h3v5h-3zM596 438h3v4h-3zM600 441h3v17h-3zM612 419h3v14h-3zM616 432h3v7h-3zM620 437h3v8h-3zM632 426h3v4h-3zM644 401h3v11h-3zM652 381h3v18h-3zM664 275h3v7h-3zM668 272h3v35h-3zM672 306h3v3h-3zM676 308h3v36h-3zM684 320h3v20h-3zM708 290h3v28h-3zM712 317h3v12h-3zM732 232h3v26h-3zM736 258h3v11h-3zM768 134h3v14h-3zM772 147h3v83h-3zM784 211h3v4h-3zM788 217h3v14h-3zM796 210h3v10h-3zM800 219h3v56h-3zM824 224h3v30h-3zM832 219h3v3h-3zM840 215h3v19h-3zM844 233h3v9h-3zM852 238h3v5h-3zM880 89h3v4h-3zM884 100h3v73h-3zM888 171h3v26h-3zM900 179h3v18h-3zM908 196h3v5h-3zM916 190h3v7h-3zM920 196h3v25h-3zM924 219h3v6h-3z" fill="#32cd32"/>
<path d="M5.5 98V130M13.5 102V128M21.5 116V154M29.5 124V150M37.5 129V164M45.5 121V153M49.5 114V127M53.5 90V120M57.5 85V105M61.5 80V96M69.5 88V108M73.5 88V108M93.5 138V174M97.5 114V147M105.5 143V176M113.5 138V164M117.5 95V165M133.5 129V193M141.5 113V148M157.5 148V195M161.5 140V157M165.5 135V165M173.5 103V165M177.5 95V137M185.5 104V130M189.5 90V131M201.5 90V130M225.5 153V176M229.5 129V167M241.5 159V199M245.5 137V171M257.5 190V206M261.5 179V212M277.5 164V244M281.5 145V179M293.5 177V207M301.5 141V215M309.5 158V194M333.5 242V275M341.5 252V277M349.5 226V284M357.5 229V261M361.5 205V246M365.5 199V238M369.5 190V229M377.5 199V215M381.5 191V213M385.5 182V212M401.5 215V224M409.5 214V243M413.5 187V231M429.5 215V236M441.5 221V259M449.5 244V251M453.5 231V261M457.5 209V258M465.5 231V261M469.5 242V262M505.5 315V353M521.5 401V411M529.5 415V438M533.5 412V452M537.5 401V429M557.5 416V451M565.5 429V460M573.5 433V450M581.5 416V453M589.5 418V445M605.5 431V459M609.5 418V460M625.5 426V447M629.5 419V447M637.5 399V437M641.5 392V401M649.5 379V414M657.5 312V402M661.5 256V321M681.5 318V346M689.5 333V342M693.5 316V344M697.5 293V327M701.5 282V313M705.5 280V309M717.5 304V327M721.5 250V337M725.5 239V283M729.5 207V272M741.5 241V272M745.5 230V274M749.5 236V282M753.5 209V251M757.5 197V221M761.5 199V213M765.5 110V198M777.5 205V235M781.5 199V225M793.5 205V232M805.5 253V283M809.5 251V265M813.5 246V270M817.5 214V252M821.5 220V242M829.5 211V255M837.5 208V235M849.5 234V252M857.5 239V245M861.5 210V243M865.5 187V219M869.5 181V204M873.5 105V198M877.5 46V119M893.5 183V210M897.5 178V210M905.5 192V201M913.5 179V217" stroke="#ff0000" fill="none"/>
<path d="M4 108h3v14h-3zM12 112h3v6h-3zM20 125h3v26h-3zM28 126h3v11h-3zM36 131h3v11h-3zM44 124h3v25h-3zM48 118h3v8h-3zM52 95h3v23h-3zM56 88h3v10h-3zM60 84h3v6h-3zM68 90h3v6h-3zM72 90h3v6h-3zM92 141h3v4h-3zM96 141h3v1h-3zM104 148h3v13h-3zM112 153h3v11h-3zM116 112h3v50h-3zM132 133h3v47h-3zM140 130h3v16h-3zM156 151h3v44h-3zM160 145h3v6h-3zM164 136h3v13h-3zM172 124h3v33h-3zM176 110h3v16h-3zM184 112h3v15h-3zM188 95h3v24h-3zM200 95h3v24h-3zM224 165h3v1h-3zM228 156h3v11h-3zM240 167h3v17h-3zM244 146h3v22h-3zM256 193h3v7h-3zM260 196h3v2h-3zM276 176h3v66h-3zM280 154h3v23h-3zM292 190h3v4h-3zM300 164h3v36h-3zM308 174h3v8h-3zM332 252h3v7h-3zM340 258h3v13h-3zM348 242h3v36h-3zM356 235h3v2h-3zM360 226h3v10h-3zM364 224h3v3h-3zM368 197h3v28h-3zM376 205h3v9h-3zM380 206h3v6h-3zM384 191h3v16h-3zM400 216h3v4h-3zM408 229h3v14h-3zM412 196h3v34h-3zM428 221h3v13h-3zM440 230h3v12h-3zM448 247h3v2h-3zM452 232h3v10h-3zM456 214h3v19h-3zM464 252h3v4h-3zM468 249h3v3h-3zM504 329h3v20h-3zM520 409h3v2h-3zM528 430h3v4h-3zM532 425h3v6h-3zM536 406h3v20h-3zM556 432h3v14h-3zM564 439h3v12h-3zM572 435h3v4h-3zM580 422h3v19h-3zM588 432h3v7h-3zM604 450h3v8h-3zM608 419h3v32h-3zM624 426h3v19h-3zM628 426h3v2h-3zM636 399h3v31h-3zM640 397h3v3h-3zM648 381h3v31h-3zM656 313h3v86h-3zM660 275h3v39h-3zM680 320h3v24h-3zM688 334h3v7h-3zM692 326h3v13h-3zM696 302h3v25h-3zM700 290h3v12h-3zM704 290h3v2h-3zM716 324h3v3h-3zM720 263h3v62h-3zM724 244h3v20h-3zM728 232h3v12h-3zM740 268h3v2h-3zM744 243h3v25h-3zM748 237h3v7h-3zM752 210h3v27h-3zM756 208h3v4h-3zM760 200h3v8h-3zM764 134h3v60h-3zM776 212h3v18h-3zM780 211h3v2h-3zM792 210h3v21h-3zM804 263h3v12h-3zM808 257h3v6h-3zM812 247h3v14h-3zM816 225h3v22h-3zM820 224h3v1h-3zM828 219h3v35h-3zM836 215h3v1h-3zM848 238h3v4h-3zM856 240h3v3h-3zM860 216h3v26h-3zM864 192h3v25h-3zM868 185h3v8h-3zM872 116h3v69h-3zM876 90h3v27h-3zM892 192h3v5h-3zM896 178h3v14h-3zM904 194h3v4h-3zM912 190h3v11h-3z" fill="#ff0000"/>
<path d="M5.5 109V121M13.5 113V117M21.5 126V150M29.5 127V136M37.5 132V141M45.5 125V148M49.5 119V125M53.5 96V117M57.5 89V97M61.5 85V89M69.5 91V95M73.5 91V95M93.5 142V144M105.5 149V160M113.5 154V163M117.5 113V161M133.5 134V179M141.5 131V145M157.5 152V194M161.5 146V150M165.5 137V148M173.5 125V156M177.5 111V125M185.5 113V126M189.5 96V118M201.5 96V118M229.5 157V166M241.5 168V183M245.5 147V167M257.5 194V199M277.5 177V241M281.5 155V176M293.5 191V193M301.5 165V199M309.5 175V181M333.5 253V258M341.5 259V270M349.5 243V277M361.5 227V235M365.5 225V226M369.5 198V224M377.5 206V213M381.5 207V211M385.5 192V206M401.5 217V219M409.5 230V242M413.5 197V229M429.5 222V233M441.5 231V241M453.5 233V241M457.5 215V232M465.5 253V255M469.5 250V251M505.5 330V348M529.5 431V433M533.5 426V430M537.5 407V425M557.5 433V445M565.5 440V450M573.5 436V438M581.5 423V440M589.5 433V438M605.5 451V457M609.5 420V450M625.5 427V444M637.5 400V429M641.5 398V399M649.5 382V411M657.5 314V398M661.5 276V313M681.5 321V343M689.5 335V340M693.5 327V338M697.5 303V326M701.5 291V301M717.5 325V326M721.5 264V324M725.5 245V263M729.5 233V243M745.5 244V267M749.5 238V243M753.5 211V236M757.5 209V211M761.5 201V207M765.5 135V193M777.5 213V229M793.5 211V230M805.5 264V274M809.5 258V262M813.5 248V260M817.5 226V246M829.5 220V253M849.5 239V241M857.5 241V242M861.5 217V241M865.5 193V216M869.5 186V192M873.5 117V184M877.5 91V116M893.5 193V196M897.5 179V191M905.5 195V197M913.5 191V200" stroke="#ff4500" fill="none"/>
</g>
<g shape-rendering="crispEdges">
<g clip-path="url(#c2)">
<path d="M4 524h3v29h-3zM8 524h3v30h-3zM12 524h3v30h-3zM16 524h3v33h-3zM20 524h3v33h-3zM24 524h3v32h-3zM28 524h3v31h-3zM32 524h3v31h-3zM36 524h3v30h-3zM40 524h3v30h-3zM44 524h3v29h-3zM48 524h3v27h-3zM52 524h3v21h-3zM56 524h3v17h-3zM60 524h3v15h-3zM64 524h3v13h-3zM68 524h3v12h-3zM72 524h3v10h-3zM76 524h3v10h-3zM80 524h3v12h-3zM84 524h3v14h-3zM88 524h3v15h-3zM92 524h3v15h-3zM96 524h3v15h-3zM100 524h3v17h-3zM104 524h3v17h-3zM108 524h3v17h-3zM112 524h3v17h-3zM116 524h3v15h-3zM120 524h3v15h-3zM124 524h3v14h-3zM128 524h3v14h-3zM132 524h3v13h-3zM136 524h3v12h-3zM140 524h3v11h-3zM144 524h3v10h-3zM148 524h3v12h-3zM152 524h3v14h-3zM156 524h3v13h-3zM160 524h3v11h-3zM164 524h3v10h-3zM168 524h3v9h-3zM172 524h3v7h-3zM176 524h3v4h-3zM180 524h3v3h-3zM184 524h3v1h-3zM188 522h3v2h-3zM192 521h3v3h-3zM196 520h3v4h-3zM200 518h3v6h-3zM204 519h3v5h-3zM208 520h3v4h-3zM212 522h3v2h-3zM216 524h3v1h-3zM220 524h3v2h-3zM224 524h3v4h-3zM228 524h3v5h-3zM232 524h3v6h-3zM236 524h3v8h-3zM240 524h3v8h-3zM244 524h3v7h-3zM248 524h3v8h-3zM252 524h3v9h-3zM256 524h3v11h-3zM260 524h3v12h-3zM264 524h3v13h-3zM268 524h3v15h-3zM272 524h3v18h-3zM276 524h3v16h-3zM280 524h3v13h-3zM284 524h3v11h-3zM288 524h3v11h-3zM292 524h3v11h-3zM296 524h3v11h-3zM300 524h3v9h-3zM304 524h3v8h-3zM308 524h3v7h-3zM312 524h3v6h-3zM316 524h3v6h-3zM320 524h3v7h-3zM324 524h3v11h-3zM328 524h3v15h-3zM332 524h3v17h-3zM336 524h3v19h-3zM340 524h3v20h-3zM344 524h3v21h-3zM348 524h3v20h-3zM352 524h3v20h-3zM356 524h3v17h-3zM360 524h3v16h-3zM364 524h3v14h-3zM368 524h3v11h-3zM372 524h3v9h-3zM376 524h3v7h-3zM380 524h3v5h-3zM384 524h3v3h-3zM388 524h3v3h-3zM392 524h3v3h-3zM396 524h3v3h-3zM400 524h3v4h-3zM404 524h3v4h-3zM408 524h3v4h-3zM412 524h3v3h-3zM416 524h3v3h-3zM420 524h3v3h-3zM424 524h3v4h-3zM428 524h3v3h-3zM432 524h3v4h-3zM436 524h3v5h-3zM440 524h3v5h-3zM444 524h3v6h-3zM448 524h3v6h-3zM452 524h3v6h-3zM456 524h3v5h-3zM460 524h3v5h-3zM464 524h3v6h-3zM468 524h3v7h-3zM472 524h3v8h-3zM476 524h3v10h-3zM480 524h3v12h-3zM484 524h3v15h-3zM488 524h3v19h-3zM492 524h3v21h-3zM496 524h3v24h-3zM500 524h3v25h-3zM504 524h3v25h-3zM508 524h3v26h-3zM512 524h3v29h-3zM516 524h3v32h-3zM520 524h3v34h-3zM524 524h3v37h-3zM528 524h3v38h-3zM532 524h3v39h-3zM536 524h3v38h-3zM540 524h3v37h-3zM544 524h3v36h-3zM548 524h3v36h-3zM552 524h3v36h-3zM556 524h3v35h-3zM560 524h3v35h-3zM564 524h3v34h-3zM568 524h3v33h-3zM572 524h3v31h-3zM576 524h3v30h-3zM580 524h3v27h-3zM584 524h3v26h-3zM588 524h3v24h-3zM592 524h3v23h-3zM596 524h3v22h-3zM600 524h3v21h-3zM604 524h3v20h-3zM608 524h3v18h-3zM612 524h3v17h-3zM616 524h3v16h-3zM620 524h3v15h-3zM624 524h3v14h-3zM628 524h3v12h-3zM632 524h3v10h-3zM636 524h3v7h-3zM640 524h3v5h-3zM644 524h3v4h-3zM648 524h3v2h-3zM652 523h3v1h-3zM656 517h3v7h-3zM660 510h3v14h-3zM664 505h3v19h-3zM668 503h3v21h-3zM672 501h3v23h-3zM676 503h3v21h-3zM680 503h3v21h-3zM684 504h3v20h-3zM688 505h3v19h-3zM692 505h3v19h-3zM696 504h3v20h-3zM700 503h3v21h-3zM704 502h3v22h-3zM708 504h3v20h-3zM712 506h3v18h-3zM716 507h3v17h-3zM720 505h3v19h-3zM724 502h3v22h-3zM728 499h3v25h-3zM732 499h3v25h-3zM736 499h3v25h-3zM740 500h3v24h-3zM744 499h3v25h-3zM748 499h3v25h-3zM752 497h3v27h-3zM756 496h3v28h-3zM760 495h3v29h-3zM764 490h3v34h-3zM768 487h3v37h-3zM772 491h3v33h-3zM776 493h3v31h-3zM780 494h3v30h-3zM784 497h3v27h-3zM788 500h3v24h-3zM792 501h3v23h-3zM796 503h3v21h-3zM800 508h3v16h-3zM804 512h3v12h-3zM808 514h3v10h-3zM812 515h3v9h-3zM816 515h3v9h-3zM820 515h3v9h-3zM824 517h3v7h-3zM828 516h3v8h-3zM832 516h3v8h-3zM836 515h3v9h-3zM840 517h3v7h-3zM844 518h3v6h-3zM848 519h3v5h-3zM852 519h3v5h-3zM856 520h3v4h-3zM860 519h3v5h-3zM864 517h3v7h-3zM868 515h3v9h-3zM872 509h3v15h-3zM876 503h3v21h-3zM880 499h3v25h-3zM884 501h3v23h-3zM888 504h3v20h-3zM892 506h3v18h-3zM896 508h3v16h-3zM900 510h3v14h-3zM904 512h3v12h-3zM908 514h3v10h-3zM912 515h3v9h-3zM916 516h3v8h-3zM920 518h3v6h-3zM924 521h3v3h-3z" fill="#c0c0c0"/>
<path fill="#ff0000" d="M784 493h8v1h-8zM776 494h8v1h-8zM792 494h4v1h-4zM772 495h4v1h-4zM796 495h3v1h-3zM768 496h4v1h-4zM799 496h2v1h-2zM764 497h4v1h-4zM801 497h2v1h-2zM760 498h4v1h-4zM803 498h2v1h-2zM756 499h4v1h-4zM805 499h1v1h-1zM752 500h4v1h-4zM806 500h2v1h-2zM748 501h4v1h-4zM808 501h1v1h-1zM736 502h12v1h-12zM809 502h2v1h-2zM732 503h4v1h-4zM811 503h2v1h-2zM692 504h20v1h-20zM724 504h8v1h-8zM813 504h2v1h-2zM689 505h3v1h-3zM712 505h12v1h-12zM815 505h2v1h-2zM687 506h2v1h-2zM817 506h2v1h-2zM900 506h15v1h-15zM685 507h2v1h-2zM819 507h2v1h-2zM896 507h4v1h-4zM915 507h2v1h-2zM684 508h1v1h-1zM821 508h2v1h-2zM893 508h3v1h-3zM917 508h2v1h-2zM682 509h2v1h-2zM823 509h2v1h-2zM891 509h2v1h-2zM919 509h2v1h-2zM681 510h1v1h-1zM825 510h2v1h-2zM888 510h3v1h-3zM921 510h1v1h-1zM680 511h1v1h-1zM827 511h2v1h-2zM885 511h3v1h-3zM922 511h2v1h-2zM678 512h2v1h-2zM829 512h3v1h-3zM883 512h2v1h-2zM924 512h1v1h-1zM677 513h1v1h-1zM832 513h3v1h-3zM880 513h3v1h-3zM676 514h1v1h-1zM835 514h2v1h-2zM877 514h3v1h-3zM674 515h2v1h-2zM837 515h3v1h-3zM875 515h2v1h-2zM673 516h1v1h-1zM840 516h16v1h-16zM872 516h3v1h-3zM672 517h1v1h-1zM856 517h4v1h-4zM868 517h4v1h-4zM670 518h2v1h-2zM860 518h8v1h-8zM669 519h1v1h-1zM668 520h1v1h-1zM212 521h16v1h-16zM667 521h1v1h-1zM208 522h4v1h-4zM228 522h4v1h-4zM666 522h1v1h-1zM204 523h4v1h-4zM232 523h3v1h-3zM665 523h1v1h-1zM201 524h3v1h-3zM235 524h2v1h-2zM664 524h1v1h-1zM199 525h2v1h-2zM237 525h3v1h-3zM662 525h2v1h-2zM197 526h2v1h-2zM240 526h8v1h-8zM416 526h20v1h-20zM661 526h1v1h-1zM195 527h2v1h-2zM248 527h4v1h-4zM408 527h8v1h-8zM436 527h20v1h-20zM660 527h1v1h-1zM192 528h3v1h-3zM252 528h4v1h-4zM404 528h4v1h-4zM456 528h12v1h-12zM658 528h2v1h-2zM189 529h3v1h-3zM256 529h4v1h-4zM400 529h4v1h-4zM468 529h8v1h-8zM656 529h2v1h-2zM187 530h2v1h-2zM260 530h4v1h-4zM397 530h3v1h-3zM476 530h11v1h-11zM653 530h3v1h-3zM184 531h3v1h-3zM264 531h4v1h-4zM320 531h12v1h-12zM395 531h2v1h-2zM487 531h2v1h-2zM651 531h2v1h-2zM180 532h4v1h-4zM268 532h4v1h-4zM316 532h4v1h-4zM332 532h4v1h-4zM392 532h3v1h-3zM489 532h2v1h-2zM648 532h3v1h-3zM176 533h4v1h-4zM272 533h4v1h-4zM312 533h4v1h-4zM336 533h3v1h-3zM389 533h3v1h-3zM491 533h2v1h-2zM645 533h3v1h-3zM172 534h4v1h-4zM276 534h3v1h-3zM308 534h4v1h-4zM339 534h2v1h-2zM387 534h2v1h-2zM493 534h2v1h-2zM643 534h2v1h-2zM160 535h12v1h-12zM279 535h2v1h-2zM304 535h4v1h-4zM341 535h2v1h-2zM384 535h3v1h-3zM495 535h2v1h-2zM641 535h2v1h-2zM88 536h16v1h-16zM148 536h12v1h-12zM281 536h23v1h-23zM343 536h2v1h-2zM381 536h3v1h-3zM497 536h2v1h-2zM639 536h2v1h-2zM84 537h4v1h-4zM104 537h4v1h-4zM140 537h8v1h-8zM345 537h3v1h-3zM379 537h2v1h-2zM499 537h2v1h-2zM636 537h3v1h-3zM81 538h3v1h-3zM108 538h8v1h-8zM128 538h12v1h-12zM348 538h3v1h-3zM376 538h3v1h-3zM501 538h2v1h-2zM633 538h3v1h-3zM80 539h1v1h-1zM116 539h12v1h-12zM351 539h2v1h-2zM373 539h3v1h-3zM503 539h2v1h-2zM631 539h2v1h-2zM78 540h2v1h-2zM353 540h3v1h-3zM371 540h2v1h-2zM505 540h2v1h-2zM628 540h3v1h-3zM77 541h1v1h-1zM356 541h15v1h-15zM507 541h2v1h-2zM625 541h3v1h-3zM75 542h2v1h-2zM509 542h2v1h-2zM623 542h2v1h-2zM5 543h2v1h-2zM73 543h2v1h-2zM511 543h2v1h-2zM620 543h3v1h-3zM7 544h2v1h-2zM71 544h2v1h-2zM513 544h2v1h-2zM616 544h4v1h-4zM9 545h3v1h-3zM69 545h2v1h-2zM515 545h2v1h-2zM612 545h4v1h-4zM12 546h3v1h-3zM67 546h2v1h-2zM517 546h2v1h-2zM609 546h3v1h-3zM15 547h2v1h-2zM65 547h2v1h-2zM519 547h2v1h-2zM607 547h2v1h-2zM17 548h2v1h-2zM63 548h2v1h-2zM521 548h2v1h-2zM604 548h3v1h-3zM19 549h2v1h-2zM61 549h2v1h-2zM523 549h2v1h-2zM601 549h3v1h-3zM21 550h2v1h-2zM59 550h2v1h-2zM525 550h2v1h-2zM599 550h2v1h-2zM23 551h2v1h-2zM57 551h2v1h-2zM527 551h2v1h-2zM597 551h2v1h-2zM25 552h3v1h-3zM55 552h2v1h-2zM529 552h2v1h-2zM595 552h2v1h-2zM28 553h4v1h-4zM52 553h3v1h-3zM531 553h2v1h-2zM592 553h3v1h-3zM32 554h20v1h-20zM533 554h2v1h-2zM588 554h4v1h-4zM535 555h2v1h-2zM584 555h4v1h-4zM537 556h3v1h-3zM580 556h4v1h-4zM540 557h4v1h-4zM576 557h4v1h-4zM544 558h4v1h-4zM572 558h4v1h-4zM548 559h4v1h-4zM564 559h8v1h-8zM552 560h12v1h-12z"/>
</g>
<g clip-path="url(#c3)">
<path d="M6 595.5H1167" stroke="#c0c0c0" stroke-dasharray="3 3" fill="none"/>
<path d="M6 629.5H1167" stroke="#c0c0c0" stroke-dasharray="3 3" fill="none"/>
<path fill="#1e90ff" d="M18 631h1v2h-1zM19 629h1v2h-1zM20 627h1v2h-1zM42 626h1v2h-1zM43 624h1v2h-1zM44 622h1v2h-1zM50 617h1v2h-1zM51 615h1v2h-1zM52 613h1v2h-1zM55 609h1v2h-1zM58 608h1v2h-1zM60 611h1v2h-1zM75 614h1v2h-1zM113 619h1v2h-1zM114 617h1v2h-1zM115 615h1v2h-1zM116 613h1v2h-1zM117 611h1v2h-1zM123 615h1v2h-1zM129 621h1v2h-1zM130 619h1v2h-1zM131 617h1v2h-1zM132 615h1v2h-1zM133 613h1v2h-1zM146 615h1v2h-1zM147 617h1v2h-1zM148 619h1v2h-1zM153 621h1v2h-1zM154 619h1v2h-1zM155 617h1v2h-1zM156 615h1v2h-1zM171 612h1v2h-1zM203 609h1v2h-1zM235 619h1v2h-1zM243 615h1v2h-1zM249 613h1v2h-1zM250 615h1v2h-1zM251 617h1v2h-1zM252 619h1v2h-1zM253 621h1v2h-1zM273 627h1v2h-1zM274 623h1v4h-1zM275 620h1v3h-1zM276 616h1v4h-1zM277 614h1v2h-1zM298 615h1v2h-1zM300 612h1v2h-1zM319 616h1v2h-1zM322 620h1v2h-1zM324 623h1v2h-1zM346 623h1v2h-1zM347 621h1v2h-1zM348 619h1v2h-1zM367 610h1v2h-1zM386 608h1v2h-1zM388 611h1v2h-1zM403 615h1v2h-1zM410 613h1v2h-1zM411 611h1v2h-1zM412 609h1v2h-1zM457 610h1v2h-1zM458 612h1v2h-1zM459 614h1v2h-1zM460 616h1v2h-1zM475 621h1v2h-1zM487 628h1v2h-1zM502 630h1v2h-1zM503 628h1v2h-1zM504 626h1v2h-1zM534 632h1v2h-1zM536 629h1v2h-1zM578 624h1v2h-1zM580 621h1v2h-1zM605 623h1v2h-1zM606 621h1v2h-1zM607 618h1v3h-1zM608 616h1v2h-1zM609 614h1v2h-1zM623 617h1v2h-1zM633 614h1v2h-1zM634 612h1v2h-1zM635 610h1v2h-1zM636 608h1v2h-1zM646 609h1v2h-1zM647 607h1v2h-1zM648 605h1v2h-1zM651 606h1v2h-1zM653 608h1v2h-1zM654 605h1v3h-1zM655 601h1v4h-1zM656 598h1v3h-1zM657 596h1v2h-1zM666 593h1v2h-1zM667 595h1v2h-1zM668 597h1v2h-1zM674 601h1v2h-1zM675 603h1v2h-1zM676 605h1v2h-1zM706 601h1v2h-1zM708 604h1v2h-1zM717 606h1v2h-1zM718 604h1v2h-1zM719 602h1v2h-1zM720 600h1v2h-1zM731 598h1v2h-1zM762 593h1v2h-1zM764 590h1v2h-1zM769 592h1v2h-1zM770 594h1v4h-1zM771 598h1v4h-1zM772 602h1v4h-1zM773 606h1v2h-1zM797 608h1v2h-1zM798 610h1v2h-1zM799 612h1v2h-1zM800 614h1v2h-1zM823 610h1v2h-1zM827 610h1v2h-1zM859 609h1v2h-1zM869 601h1v2h-1zM870 599h1v2h-1zM871 597h1v2h-1zM872 595h1v2h-1zM873 593h1v2h-1zM881 592h1v2h-1zM882 594h1v4h-1zM883 598h1v4h-1zM884 602h1v4h-1zM885 606h1v2h-1zM919 613h1v2h-1zM765 589h1v1h-1zM766 590h2v1h-2zM768 591h1v1h-1zM877 591h3v1h-3zM661 592h5v1h-5zM763 592h1v1h-1zM875 592h2v1h-2zM880 592h1v1h-1zM660 593h1v1h-1zM874 593h1v1h-1zM659 594h1v1h-1zM658 595h1v1h-1zM760 595h2v1h-2zM725 596h5v1h-5zM753 596h7v1h-7zM724 597h1v1h-1zM730 597h1v1h-1zM751 597h2v1h-2zM722 598h2v1h-2zM749 598h2v1h-2zM669 599h3v1h-3zM721 599h1v1h-1zM747 599h2v1h-2zM672 600h2v1h-2zM701 600h5v1h-5zM732 600h1v1h-1zM745 600h2v1h-2zM699 601h2v1h-2zM733 601h1v1h-1zM744 601h1v1h-1zM697 602h2v1h-2zM734 602h2v1h-2zM743 602h1v1h-1zM868 602h1v1h-1zM696 603h1v1h-1zM707 603h1v1h-1zM736 603h1v1h-1zM742 603h1v1h-1zM865 603h3v1h-3zM649 604h1v1h-1zM681 604h1v1h-1zM694 604h2v1h-2zM737 604h5v1h-5zM864 604h1v1h-1zM650 605h1v1h-1zM680 605h1v1h-1zM682 605h2v1h-2zM692 605h2v1h-2zM780 605h4v1h-4zM863 605h1v1h-1zM189 606h5v1h-5zM678 606h2v1h-2zM684 606h1v1h-1zM688 606h4v1h-4zM709 606h1v1h-1zM776 606h4v1h-4zM784 606h2v1h-2zM793 606h2v1h-2zM862 606h1v1h-1zM57 607h1v1h-1zM187 607h2v1h-2zM194 607h1v1h-1zM201 607h1v1h-1zM385 607h1v1h-1zM637 607h5v1h-5zM677 607h1v1h-1zM685 607h3v1h-3zM710 607h2v1h-2zM774 607h2v1h-2zM786 607h2v1h-2zM792 607h1v1h-1zM795 607h2v1h-2zM836 607h2v1h-2zM861 607h1v1h-1zM56 608h1v1h-1zM177 608h2v1h-2zM185 608h2v1h-2zM195 608h1v1h-1zM200 608h1v1h-1zM202 608h1v1h-1zM369 608h1v1h-1zM384 608h1v1h-1zM413 608h1v1h-1zM642 608h1v1h-1zM652 608h1v1h-1zM712 608h1v1h-1zM715 608h2v1h-2zM788 608h1v1h-1zM790 608h2v1h-2zM817 608h5v1h-5zM829 608h7v1h-7zM838 608h1v1h-1zM860 608h1v1h-1zM886 608h1v1h-1zM175 609h2v1h-2zM179 609h2v1h-2zM183 609h2v1h-2zM196 609h1v1h-1zM198 609h2v1h-2zM368 609h1v1h-1zM370 609h1v1h-1zM382 609h2v1h-2zM414 609h1v1h-1zM643 609h1v1h-1zM713 609h2v1h-2zM789 609h1v1h-1zM816 609h1v1h-1zM822 609h1v1h-1zM828 609h1v1h-1zM839 609h1v1h-1zM887 609h1v1h-1zM896 609h2v1h-2zM59 610h1v1h-1zM173 610h2v1h-2zM181 610h2v1h-2zM197 610h1v1h-1zM281 610h1v1h-1zM371 610h1v1h-1zM377 610h5v1h-5zM387 610h1v1h-1zM415 610h1v1h-1zM644 610h1v1h-1zM815 610h1v1h-1zM840 610h1v1h-1zM888 610h1v1h-1zM892 610h4v1h-4zM898 610h2v1h-2zM913 610h3v1h-3zM54 611h1v1h-1zM118 611h1v1h-1zM172 611h1v1h-1zM204 611h1v1h-1zM280 611h1v1h-1zM282 611h2v1h-2zM301 611h3v1h-3zM372 611h1v1h-1zM375 611h2v1h-2zM416 611h1v1h-1zM456 611h1v1h-1zM645 611h1v1h-1zM814 611h1v1h-1zM841 611h3v1h-3zM858 611h1v1h-1zM889 611h3v1h-3zM900 611h1v1h-1zM904 611h4v1h-4zM911 611h2v1h-2zM916 611h2v1h-2zM53 612h1v1h-1zM73 612h1v1h-1zM119 612h2v1h-2zM164 612h2v1h-2zM205 612h7v1h-7zM279 612h1v1h-1zM284 612h1v1h-1zM304 612h7v1h-7zM366 612h1v1h-1zM373 612h2v1h-2zM417 612h1v1h-1zM455 612h1v1h-1zM812 612h2v1h-2zM824 612h1v1h-1zM826 612h1v1h-1zM844 612h14v1h-14zM901 612h3v1h-3zM908 612h3v1h-3zM918 612h1v1h-1zM61 613h3v1h-3zM71 613h2v1h-2zM74 613h1v1h-1zM121 613h1v1h-1zM134 613h1v1h-1zM141 613h3v1h-3zM160 613h4v1h-4zM166 613h2v1h-2zM212 613h3v1h-3zM245 613h4v1h-4zM278 613h1v1h-1zM285 613h1v1h-1zM311 613h2v1h-2zM364 613h2v1h-2zM389 613h6v1h-6zM401 613h1v1h-1zM418 613h2v1h-2zM429 613h3v1h-3zM454 613h1v1h-1zM808 613h4v1h-4zM825 613h1v1h-1zM64 614h7v1h-7zM122 614h1v1h-1zM135 614h2v1h-2zM139 614h2v1h-2zM144 614h2v1h-2zM157 614h3v1h-3zM168 614h1v1h-1zM170 614h1v1h-1zM215 614h2v1h-2zM244 614h1v1h-1zM286 614h2v1h-2zM299 614h1v1h-1zM313 614h5v1h-5zM361 614h3v1h-3zM395 614h2v1h-2zM399 614h2v1h-2zM402 614h1v1h-1zM420 614h1v1h-1zM428 614h1v1h-1zM432 614h2v1h-2zM441 614h1v1h-1zM453 614h1v1h-1zM805 614h3v1h-3zM137 615h2v1h-2zM169 615h1v1h-1zM217 615h1v1h-1zM288 615h1v1h-1zM318 615h1v1h-1zM359 615h2v1h-2zM397 615h2v1h-2zM409 615h1v1h-1zM421 615h3v1h-3zM426 615h2v1h-2zM434 615h2v1h-2zM440 615h1v1h-1zM442 615h1v1h-1zM452 615h1v1h-1zM610 615h2v1h-2zM625 615h8v1h-8zM803 615h2v1h-2zM920 615h1v1h-1zM76 616h1v1h-1zM218 616h1v1h-1zM289 616h7v1h-7zM357 616h2v1h-2zM408 616h1v1h-1zM424 616h2v1h-2zM436 616h1v1h-1zM438 616h2v1h-2zM443 616h1v1h-1zM450 616h2v1h-2zM612 616h1v1h-1zM624 616h1v1h-1zM801 616h2v1h-2zM921 616h4v1h-4zM77 617h2v1h-2zM124 617h1v1h-1zM219 617h1v1h-1zM229 617h5v1h-5zM242 617h1v1h-1zM296 617h2v1h-2zM356 617h1v1h-1zM404 617h1v1h-1zM406 617h2v1h-2zM437 617h1v1h-1zM444 617h1v1h-1zM448 617h2v1h-2zM464 617h7v1h-7zM613 617h2v1h-2zM79 618h2v1h-2zM125 618h1v1h-1zM220 618h1v1h-1zM227 618h2v1h-2zM234 618h1v1h-1zM241 618h1v1h-1zM320 618h1v1h-1zM349 618h3v1h-3zM354 618h2v1h-2zM405 618h1v1h-1zM445 618h3v1h-3zM461 618h3v1h-3zM471 618h2v1h-2zM615 618h2v1h-2zM49 619h1v1h-1zM81 619h1v1h-1zM126 619h1v1h-1zM221 619h6v1h-6zM240 619h1v1h-1zM321 619h1v1h-1zM352 619h2v1h-2zM473 619h1v1h-1zM617 619h3v1h-3zM622 619h1v1h-1zM47 620h2v1h-2zM82 620h2v1h-2zM127 620h1v1h-1zM239 620h1v1h-1zM474 620h1v1h-1zM581 620h1v1h-1zM620 620h2v1h-2zM45 621h2v1h-2zM84 621h1v1h-1zM93 621h5v1h-5zM105 621h2v1h-2zM112 621h1v1h-1zM128 621h1v1h-1zM149 621h3v1h-3zM236 621h1v1h-1zM238 621h1v1h-1zM256 621h8v1h-8zM582 621h2v1h-2zM85 622h3v1h-3zM91 622h2v1h-2zM98 622h2v1h-2zM104 622h1v1h-1zM107 622h2v1h-2zM110 622h2v1h-2zM152 622h1v1h-1zM237 622h1v1h-1zM254 622h2v1h-2zM264 622h2v1h-2zM323 622h1v1h-1zM584 622h1v1h-1zM588 622h8v1h-8zM88 623h3v1h-3zM100 623h1v1h-1zM102 623h2v1h-2zM109 623h1v1h-1zM266 623h2v1h-2zM341 623h2v1h-2zM476 623h1v1h-1zM579 623h1v1h-1zM585 623h3v1h-3zM596 623h2v1h-2zM101 624h1v1h-1zM268 624h1v1h-1zM333 624h3v1h-3zM339 624h2v1h-2zM343 624h2v1h-2zM477 624h6v1h-6zM598 624h1v1h-1zM37 625h1v1h-1zM269 625h1v1h-1zM325 625h3v1h-3zM331 625h2v1h-2zM336 625h3v1h-3zM345 625h1v1h-1zM483 625h2v1h-2zM505 625h1v1h-1zM573 625h3v1h-3zM599 625h1v1h-1zM604 625h1v1h-1zM21 626h9v1h-9zM36 626h1v1h-1zM38 626h2v1h-2zM270 626h2v1h-2zM328 626h3v1h-3zM485 626h1v1h-1zM506 626h1v1h-1zM572 626h1v1h-1zM576 626h2v1h-2zM600 626h1v1h-1zM602 626h2v1h-2zM30 627h2v1h-2zM35 627h1v1h-1zM40 627h1v1h-1zM272 627h1v1h-1zM486 627h1v1h-1zM507 627h1v1h-1zM570 627h2v1h-2zM601 627h1v1h-1zM32 628h1v1h-1zM34 628h1v1h-1zM41 628h1v1h-1zM508 628h1v1h-1zM537 628h2v1h-2zM565 628h5v1h-5zM5 629h3v1h-3zM12 629h2v1h-2zM33 629h1v1h-1zM509 629h1v1h-1zM539 629h2v1h-2zM557 629h2v1h-2zM564 629h1v1h-1zM8 630h4v1h-4zM14 630h1v1h-1zM488 630h1v1h-1zM510 630h1v1h-1zM541 630h6v1h-6zM556 630h1v1h-1zM559 630h2v1h-2zM562 630h2v1h-2zM15 631h1v1h-1zM489 631h11v1h-11zM511 631h1v1h-1zM535 631h1v1h-1zM547 631h2v1h-2zM555 631h1v1h-1zM561 631h1v1h-1zM16 632h1v1h-1zM500 632h2v1h-2zM512 632h1v1h-1zM549 632h3v1h-3zM554 632h1v1h-1zM17 633h1v1h-1zM513 633h2v1h-2zM552 633h2v1h-2zM515 634h2v1h-2zM533 634h1v1h-1zM517 635h6v1h-6zM531 635h2v1h-2zM523 636h2v1h-2zM528 636h3v1h-3zM525 637h3v1h-3z"/>
</g>
<path d="M4.5 20.5H1167.5V480.5H4.5Z" fill="none" stroke="#000"/>
<path d="M4.5 482.5H1167.5V566.5H4.5Z" fill="none" stroke="#000"/>
<path d="M4.5 568.5H1167.5V655.5H4.5Z" fill="none" stroke="#000"/>
<rect x="4" y="78" width="6" height="6" fill="#ff0000"/><rect x="6" y="80" width="2" height="2" fill="#fff"/>
<rect x="1161" y="78" width="6" height="6" fill="#ff0000"/><rect x="1163" y="80" width="2" height="2" fill="#fff"/>
<rect x="4" y="168" width="6" height="6" fill="#00ff00"/><rect x="6" y="170" width="2" height="2" fill="#fff"/>
<rect x="1161" y="168" width="6" height="6" fill="#00ff00"/><rect x="1163" y="170" width="2" height="2" fill="#fff"/>
<rect x="4" y="244" width="6" height="6" fill="#0000ff"/><rect x="6" y="246" width="2" height="2" fill="#fff"/>
<rect x="1161" y="244" width="6" height="6" fill="#0000ff"/><rect x="1163" y="246" width="2" height="2" fill="#fff"/>
<path d="M1168 48.5h2M1168 115.5h2M1168 147.5h2M1168 181.5h2M1168 213.5h2M1168 279.5h2M1168 312.5h2M1168 345.5h2M1168 378.5h2M1168 411.5h2M1168 477.5h2M1168 524.5h2M1168 595.5h2M1168 629.5h2M5.5 656v3M69.5 656v3M133.5 656v3M197.5 656v3M261.5 656v3M325.5 656v3M389.5 656v3M453.5 656v3M517.5 656v3M581.5 656v3M645.5 656v3M709.5 656v3M773.5 656v3M837.5 656v3M901.5 656v3" stroke="#000" fill="none"/>
</g>
</svg>
<div class="a" style="left:9px;top:27px;width:0;height:0;border-left:3.5px solid transparent;border-right:3.5px solid transparent;border-bottom:4px solid #000;"></div>
<div class="a t" style="left:20.5px;top:24px;letter-spacing:0.27px;">USDCAD,Daily</div>
<div class="a t" style="left:92.8px;top:24px;letter-spacing:0px;">1.25594 1.25648 1.25473 1.25520</div>
<div class="a t" style="left:8.7px;top:487px;letter-spacing:0.1px">MACD(12,26,9) 0.000773 0.002931</div>
<div class="a t" style="left:8.7px;top:573px;letter-spacing:0.02px">RSI(14) 44.8142</div>
<div class="a" style="left:6px;top:38px;width:223px;height:61px;background:#fff;"></div><div class="a" style="left:8px;top:40px;width:219px;height:57px;">
<div style="position:absolute;left:0;top:0;width:52px;height:24px;background:linear-gradient(#f85050,#d82828);"></div>
<div style="position:absolute;left:168px;top:0;width:51px;height:24px;background:linear-gradient(#f85050,#d82828);"></div>
<div style="position:absolute;left:0;top:24px;width:109px;height:33px;background:linear-gradient(#d82828,#b00000);"></div>
<div style="position:absolute;left:111px;top:24px;width:108px;height:33px;background:linear-gradient(#d82828,#b00000);"></div>
<div style="position:absolute;left:4px;top:24px;width:44px;height:1px;background:#f0a0a0;"></div>
<div style="position:absolute;left:171px;top:24px;width:44px;height:1px;background:#f0a0a0;"></div>
<div style="position:absolute;left:54px;top:0;width:111px;height:22px;background:#fff;border:1px solid #a8acb4;box-sizing:border-box;"></div>
<div style="position:absolute;left:56px;top:1px;width:19px;height:20px;background:linear-gradient(#e8e8e8,#c8c8c8);border-right:1px solid #a8acb4;"></div>
<div style="position:absolute;left:143px;top:1px;width:21px;height:20px;background:linear-gradient(#e8e8e8,#c8c8c8);border-left:1px solid #a8acb4;"></div>
<div style="position:absolute;left:62px;top:9.5px;width:0;height:0;border-left:2.5px solid transparent;border-right:2.5px solid transparent;border-top:3px solid #4060c0;"></div>
<div style="position:absolute;left:150px;top:9px;width:0;height:0;border-left:2.5px solid transparent;border-right:2.5px solid transparent;border-bottom:3px solid #4060c0;"></div>
<div style="position:absolute;left:12px;top:5px;color:#fff;font-size:12px;line-height:14px;letter-spacing:-0.9px">SELL</div>
<div style="position:absolute;left:180.5px;top:5px;color:#fff;font-size:12px;line-height:14px;letter-spacing:-0.6px">BUY</div>
<div style="position:absolute;left:100px;top:4px;width:40.5px;text-align:right;color:#000;font-size:12px;line-height:14px;">3.00</div>
<div style="position:absolute;left:20px;top:40.3px;color:#fff;font-size:12px;line-height:14px;font-weight:bold;letter-spacing:0px">1.25</div>
<div style="position:absolute;left:48px;top:22.5px;color:#fff;font-size:34px;line-height:36px;letter-spacing:-2.6px">52</div>
<div style="position:absolute;left:87.5px;top:27px;color:#fff;font-size:11.5px;line-height:12px;font-weight:bold;">3</div>
<div style="position:absolute;left:130px;top:40.3px;color:#fff;font-size:12px;line-height:14px;font-weight:bold;letter-spacing:0px">1.25</div>
<div style="position:absolute;left:159.5px;top:22.5px;color:#fff;font-size:34px;line-height:36px;letter-spacing:-2.6px">54</div>
<div style="position:absolute;left:197.5px;top:27px;color:#fff;font-size:11.5px;line-height:12px;font-weight:bold;">4</div>
</div>
<div class="ax" style="top:44px">1.29440</div>
<div class="ax" style="top:111px">1.27960</div>
<div class="ax" style="top:143px">1.27240</div>
<div class="ax" style="top:177px">1.26500</div>
<div class="ax" style="top:209px">1.25760</div>
<div class="ax" style="top:275px">1.24280</div>
<div class="ax" style="top:308px">1.23560</div>
<div class="ax" style="top:341px">1.22820</div>
<div class="ax" style="top:374px">1.22080</div>
<div class="ax" style="top:407px">1.21340</div>
<div class="ax" style="top:473px">1.19880</div>
<div class="ax" style="top:485px;left:1171px">0.01135</div>
<div class="ax" style="top:519.5px;left:1171px">0.00</div>
<div class="ax" style="top:556px;left:1171px">-0.01190</div>
<div class="ax" style="top:571px;left:1171px">100</div>
<div class="ax" style="top:590.5px;left:1171px">70</div>
<div class="ax" style="top:624.5px;left:1171px">30</div>
<div class="ax" style="top:644px;left:1171px">0</div>
<div class="tag" style="top:75px;background:#ff0000"><span>1.28700</span></div>
<div class="tag" style="top:165px;background:#00ff00"><span>1.26700</span></div>
<div class="tag" style="top:219px;background:#000000"><span>1.25520</span></div>
<div class="tag" style="top:241px;background:#0000ff"><span>1.25003</span></div>
<div class="tag" style="top:331px;background:#0000ff"><span>1.23003</span></div>
<div class="tag" style="top:438px;background:#0000ff"><span>1.20609</span></div>
<div class="dt" style="left:4px">7 Dec 2020</div>
<div class="dt" style="left:68px">25 Dec 2020</div>
<div class="dt" style="left:132px">15 Jan 2021</div>
<div class="dt" style="left:196px">3 Feb 2021</div>
<div class="dt" style="left:260px">22 Feb 2021</div>
<div class="dt" style="left:324px">12 Mar 2021</div>
<div class="dt" style="left:388px">31 Mar 2021</div>
<div class="dt" style="left:452px">19 Apr 2021</div>
<div class="dt" style="left:516px">7 May 2021</div>
<div class="dt" style="left:580px">26 May 2021</div>
<div class="dt" style="left:644px">14 Jun 2021</div>
<div class="dt" style="left:708px">2 Jul 2021</div>
<div class="dt" style="left:772px">21 Jul 2021</div>
<div class="dt" style="left:836px">9 Aug 2021</div>
<div class="dt" style="left:900px">27 Aug 2021</div>
<div class="tabs">
<div style="position:absolute;left:0;top:0;width:1206px;height:1px;background:#000;"></div>
<div style="position:absolute;left:0;top:19px;width:1206px;height:3px;background:#f8f8f8;"></div>
<div style="position:absolute;left:0;top:22px;width:1206px;height:2px;background:#c0c0c0;"></div>
<div style="position:absolute;left:290px;top:0px;width:102px;height:18px;background:#fff;border:1px solid #000;border-top:none;"></div>
<div style="position:absolute;left:2px;top:-2px;width:1204px;height:1px;background:#e0e0e0;"></div>
<span style="left:18px;">EURUSD,H4</span>
<span style="left:108px;">AUDUSD,Daily</span>
<span style="left:212px;">USDCHF,H4</span>
<span style="left:301px;color:#000;">USDCAD,Daily</span>
<span style="left:404px;">USDCNH,Daily</span>
<span style="left:510px;">UKOil,H1</span>
<span style="left:584px;">DJ30,H1</span>
<span style="left:654px;">USDX,H1</span>
<span style="left:729px;">XAUUSD,H4</span>
<span style="left:822px;">GBPUSD,H1</span>
<div style="position:absolute;left:98px;top:4px;width:1px;height:13px;background:#606060;"></div>
<div style="position:absolute;left:202px;top:4px;width:1px;height:13px;background:#606060;"></div>
<div style="position:absolute;left:498px;top:4px;width:1px;height:13px;background:#606060;"></div>
<div style="position:absolute;left:574px;top:4px;width:1px;height:13px;background:#606060;"></div>
<div style="position:absolute;left:642px;top:4px;width:1px;height:13px;background:#606060;"></div>
<div style="position:absolute;left:718px;top:4px;width:1px;height:13px;background:#606060;"></div>
<div style="position:absolute;left:810px;top:4px;width:1px;height:13px;background:#606060;"></div>
<div style="position:absolute;left:902px;top:4px;width:1px;height:13px;background:#606060;"></div>
<div style="position:absolute;left:1183px;top:6px;width:0;height:0;border-top:3.5px solid transparent;border-bottom:3.5px solid transparent;border-right:4px solid #808080;"></div>
<div style="position:absolute;left:1201px;top:6px;width:0;height:0;border-top:3.5px solid transparent;border-bottom:3.5px solid transparent;border-left:4px solid #808080;"></div>
</div>
</body></html>
